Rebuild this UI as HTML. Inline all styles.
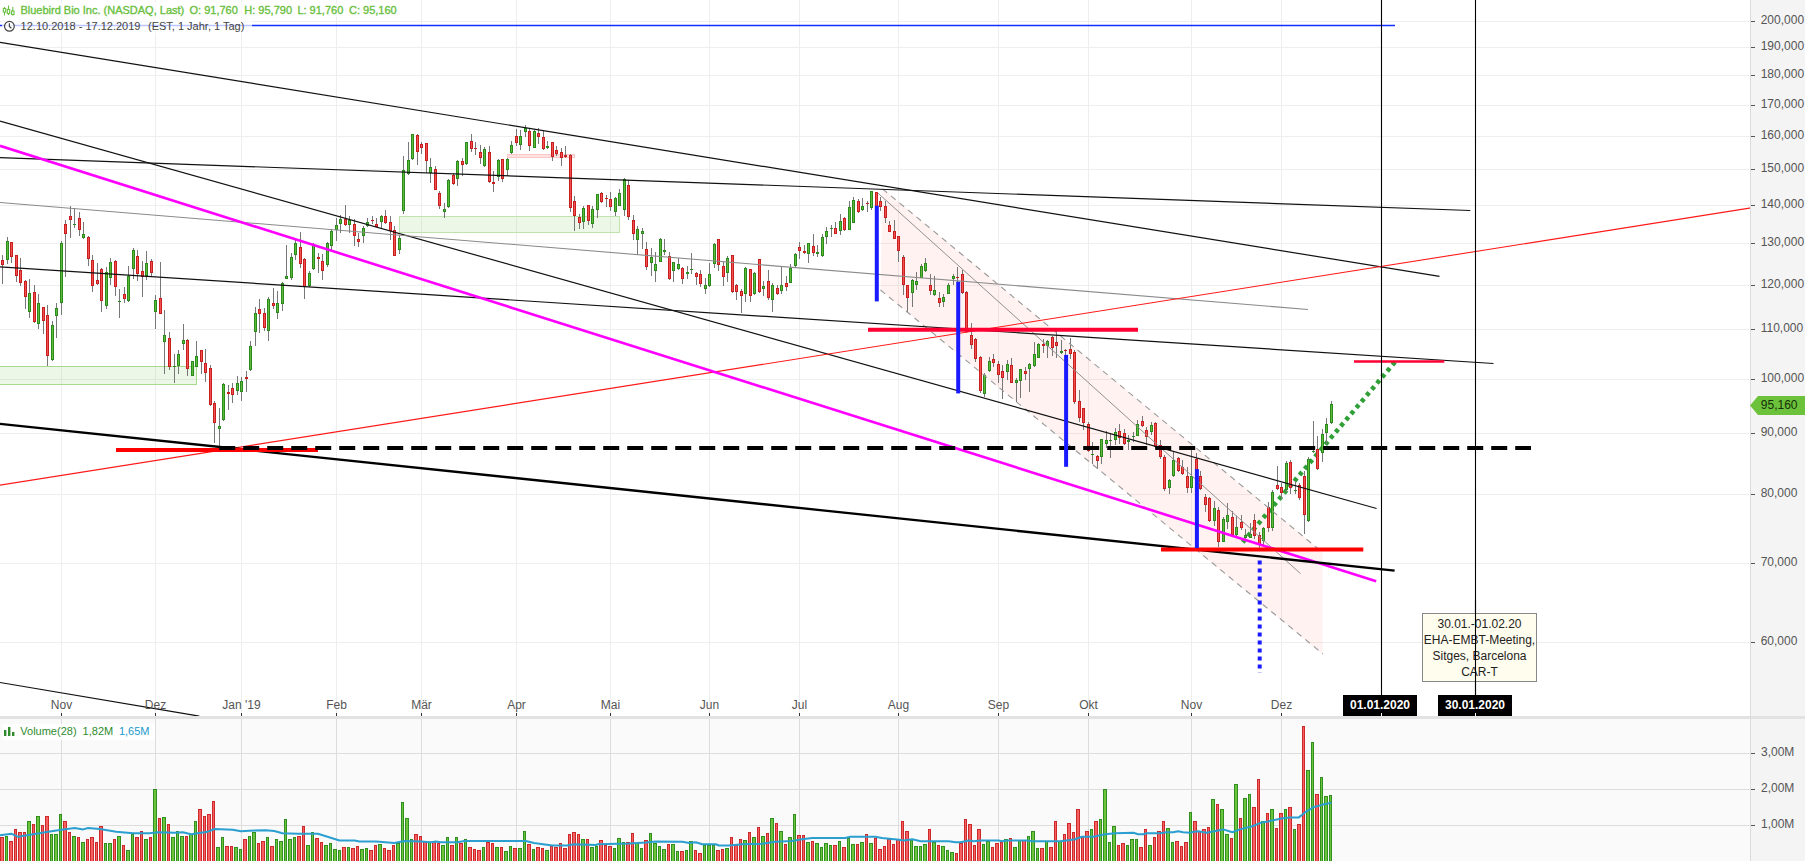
<!DOCTYPE html>
<html lang="de"><head><meta charset="utf-8"><title>Bluebird Bio Inc. Chart</title><style>html,body{margin:0;padding:0;background:#fff;overflow:hidden}svg{display:block}</style></head><body>
<svg width="1805" height="861" viewBox="0 0 1805 861" font-family="'Liberation Sans', Arial, sans-serif">
<rect x="0" y="0" width="1805" height="861" fill="#ffffff"/>
<rect x="0" y="719" width="1751" height="142" fill="#fafafa"/>
<rect x="1751" y="0" width="54" height="861" fill="#f4f4f4"/>
<g shape-rendering="crispEdges" stroke="#eeeeee" stroke-width="1">
<line x1="0" y1="21.5" x2="1750" y2="21.5"/>
<line x1="0" y1="47.5" x2="1750" y2="47.5"/>
<line x1="0" y1="75.5" x2="1750" y2="75.5"/>
<line x1="0" y1="105.5" x2="1750" y2="105.5"/>
<line x1="0" y1="136.5" x2="1750" y2="136.5"/>
<line x1="0" y1="169.5" x2="1750" y2="169.5"/>
<line x1="0" y1="205.5" x2="1750" y2="205.5"/>
<line x1="0" y1="243.5" x2="1750" y2="243.5"/>
<line x1="0" y1="285.5" x2="1750" y2="285.5"/>
<line x1="0" y1="329.5" x2="1750" y2="329.5"/>
<line x1="0" y1="379.5" x2="1750" y2="379.5"/>
<line x1="0" y1="433.5" x2="1750" y2="433.5"/>
<line x1="0" y1="494.5" x2="1750" y2="494.5"/>
<line x1="0" y1="563.5" x2="1750" y2="563.5"/>
<line x1="0" y1="642.5" x2="1750" y2="642.5"/>
<line x1="61.5" y1="0" x2="61.5" y2="716"/>
<line x1="155.5" y1="0" x2="155.5" y2="716"/>
<line x1="241.5" y1="0" x2="241.5" y2="716"/>
<line x1="336.5" y1="0" x2="336.5" y2="716"/>
<line x1="421.5" y1="0" x2="421.5" y2="716"/>
<line x1="516.5" y1="0" x2="516.5" y2="716"/>
<line x1="610.5" y1="0" x2="610.5" y2="716"/>
<line x1="709.5" y1="0" x2="709.5" y2="716"/>
<line x1="799.5" y1="0" x2="799.5" y2="716"/>
<line x1="898.5" y1="0" x2="898.5" y2="716"/>
<line x1="998.5" y1="0" x2="998.5" y2="716"/>
<line x1="1088.5" y1="0" x2="1088.5" y2="716"/>
<line x1="1191.5" y1="0" x2="1191.5" y2="716"/>
<line x1="1281.5" y1="0" x2="1281.5" y2="716"/>
</g>
<g shape-rendering="crispEdges" stroke="#dddddd" stroke-width="1">
<line x1="0" y1="753.5" x2="1750" y2="753.5"/>
<line x1="0" y1="789.5" x2="1750" y2="789.5"/>
<line x1="0" y1="825.5" x2="1750" y2="825.5"/>
<line x1="61.5" y1="719" x2="61.5" y2="861"/>
<line x1="155.5" y1="719" x2="155.5" y2="861"/>
<line x1="241.5" y1="719" x2="241.5" y2="861"/>
<line x1="336.5" y1="719" x2="336.5" y2="861"/>
<line x1="421.5" y1="719" x2="421.5" y2="861"/>
<line x1="516.5" y1="719" x2="516.5" y2="861"/>
<line x1="610.5" y1="719" x2="610.5" y2="861"/>
<line x1="709.5" y1="719" x2="709.5" y2="861"/>
<line x1="799.5" y1="719" x2="799.5" y2="861"/>
<line x1="898.5" y1="719" x2="898.5" y2="861"/>
<line x1="998.5" y1="719" x2="998.5" y2="861"/>
<line x1="1088.5" y1="719" x2="1088.5" y2="861"/>
<line x1="1191.5" y1="719" x2="1191.5" y2="861"/>
<line x1="1281.5" y1="719" x2="1281.5" y2="861"/>
</g>
<polygon points="882.5,188.9 1322.5,552 1322.5,654 880.5,290" fill="rgb(255,90,80)" fill-opacity="0.08"/>
<line x1="1395" y1="362" x2="1241.2" y2="544" stroke="#2fa037" stroke-width="4.6" stroke-dasharray="4 4"/>
<rect x="-1" y="366.5" width="197.5" height="18" fill="#66bb44" fill-opacity="0.12" stroke="#a9d98a" stroke-width="1"/>
<rect x="399.5" y="216.5" width="220" height="16" fill="#66bb44" fill-opacity="0.12" stroke="#bfe3ad" stroke-width="1"/>
<rect x="507.5" y="154.5" width="67" height="3" fill="#ff8888" fill-opacity="0.25" stroke="#ffc8c8" stroke-width="1"/>
<g shape-rendering="crispEdges">
<line x1="2.5" y1="255" x2="2.5" y2="284" stroke="#777777" stroke-width="1"/>
<rect x="1.0" y="260" width="3" height="5" fill="#c81e1e"/>
<rect x="2.0" y="261" width="1" height="3" fill="#f05050"/>
<line x1="7.5" y1="237" x2="7.5" y2="264" stroke="#777777" stroke-width="1"/>
<rect x="6.0" y="241" width="3" height="19" fill="#2a8a1e"/>
<rect x="7.0" y="242" width="1" height="17" fill="#5dbb38"/>
<line x1="11.5" y1="242" x2="11.5" y2="263" stroke="#777777" stroke-width="1"/>
<rect x="10.0" y="242" width="3" height="15" fill="#c81e1e"/>
<rect x="11.0" y="243" width="1" height="13" fill="#f05050"/>
<line x1="16.5" y1="255" x2="16.5" y2="282" stroke="#777777" stroke-width="1"/>
<rect x="15.0" y="255" width="3" height="21" fill="#c81e1e"/>
<rect x="16.0" y="256" width="1" height="19" fill="#f05050"/>
<line x1="20.5" y1="258" x2="20.5" y2="286" stroke="#777777" stroke-width="1"/>
<rect x="19.0" y="270" width="3" height="13" fill="#c81e1e"/>
<rect x="20.0" y="271" width="1" height="11" fill="#f05050"/>
<line x1="25.5" y1="280" x2="25.5" y2="309" stroke="#777777" stroke-width="1"/>
<rect x="24.0" y="281" width="3" height="16" fill="#c81e1e"/>
<rect x="25.0" y="282" width="1" height="14" fill="#f05050"/>
<line x1="29.5" y1="279" x2="29.5" y2="318" stroke="#777777" stroke-width="1"/>
<rect x="28.0" y="293" width="3" height="19" fill="#2a8a1e"/>
<rect x="29.0" y="294" width="1" height="17" fill="#5dbb38"/>
<line x1="34.5" y1="285" x2="34.5" y2="323" stroke="#777777" stroke-width="1"/>
<rect x="33.0" y="292" width="3" height="30" fill="#c81e1e"/>
<rect x="34.0" y="293" width="1" height="28" fill="#f05050"/>
<line x1="38.5" y1="294" x2="38.5" y2="329" stroke="#777777" stroke-width="1"/>
<rect x="37.0" y="303" width="3" height="21" fill="#2a8a1e"/>
<rect x="38.0" y="304" width="1" height="19" fill="#5dbb38"/>
<line x1="43.5" y1="307" x2="43.5" y2="334" stroke="#777777" stroke-width="1"/>
<rect x="42.0" y="307" width="3" height="14" fill="#c81e1e"/>
<rect x="43.0" y="308" width="1" height="12" fill="#f05050"/>
<line x1="47.5" y1="305" x2="47.5" y2="366" stroke="#777777" stroke-width="1"/>
<rect x="46.0" y="315" width="3" height="41" fill="#c81e1e"/>
<rect x="47.0" y="316" width="1" height="39" fill="#f05050"/>
<line x1="52.5" y1="321" x2="52.5" y2="361" stroke="#777777" stroke-width="1"/>
<rect x="51.0" y="325" width="3" height="35" fill="#2a8a1e"/>
<rect x="52.0" y="326" width="1" height="33" fill="#5dbb38"/>
<line x1="56.5" y1="303" x2="56.5" y2="338" stroke="#777777" stroke-width="1"/>
<rect x="55.0" y="308" width="3" height="8" fill="#2a8a1e"/>
<rect x="56.0" y="309" width="1" height="6" fill="#5dbb38"/>
<line x1="61.5" y1="241" x2="61.5" y2="315" stroke="#777777" stroke-width="1"/>
<rect x="60.0" y="243" width="3" height="60" fill="#2a8a1e"/>
<rect x="61.0" y="244" width="1" height="58" fill="#5dbb38"/>
<line x1="65.5" y1="220" x2="65.5" y2="277" stroke="#777777" stroke-width="1"/>
<rect x="64.0" y="224" width="3" height="10" fill="#c81e1e"/>
<rect x="65.0" y="225" width="1" height="8" fill="#f05050"/>
<line x1="70.5" y1="206" x2="70.5" y2="238" stroke="#777777" stroke-width="1"/>
<rect x="69.0" y="216" width="3" height="4" fill="#c81e1e"/>
<rect x="70.0" y="217" width="1" height="2" fill="#f05050"/>
<line x1="74.5" y1="208" x2="74.5" y2="228" stroke="#777777" stroke-width="1"/>
<rect x="73.0" y="224" width="3" height="1" fill="#2a8a1e"/>
<line x1="79.5" y1="212" x2="79.5" y2="236" stroke="#777777" stroke-width="1"/>
<rect x="78.0" y="218" width="3" height="12" fill="#c81e1e"/>
<rect x="79.0" y="219" width="1" height="10" fill="#f05050"/>
<line x1="83.5" y1="222" x2="83.5" y2="239" stroke="#777777" stroke-width="1"/>
<rect x="82.0" y="234" width="3" height="4" fill="#2a8a1e"/>
<rect x="83.0" y="235" width="1" height="2" fill="#5dbb38"/>
<line x1="88.5" y1="236" x2="88.5" y2="266" stroke="#777777" stroke-width="1"/>
<rect x="87.0" y="237" width="3" height="22" fill="#c81e1e"/>
<rect x="88.0" y="238" width="1" height="20" fill="#f05050"/>
<line x1="92.5" y1="255" x2="92.5" y2="292" stroke="#777777" stroke-width="1"/>
<rect x="91.0" y="260" width="3" height="26" fill="#c81e1e"/>
<rect x="92.0" y="261" width="1" height="24" fill="#f05050"/>
<line x1="97.5" y1="263" x2="97.5" y2="285" stroke="#777777" stroke-width="1"/>
<rect x="96.0" y="280" width="3" height="4" fill="#c81e1e"/>
<rect x="97.0" y="281" width="1" height="2" fill="#f05050"/>
<line x1="101.5" y1="268" x2="101.5" y2="312" stroke="#777777" stroke-width="1"/>
<rect x="100.0" y="269" width="3" height="32" fill="#c81e1e"/>
<rect x="101.0" y="270" width="1" height="30" fill="#f05050"/>
<line x1="106.5" y1="267" x2="106.5" y2="309" stroke="#777777" stroke-width="1"/>
<rect x="105.0" y="272" width="3" height="34" fill="#2a8a1e"/>
<rect x="106.0" y="273" width="1" height="32" fill="#5dbb38"/>
<line x1="110.5" y1="258" x2="110.5" y2="285" stroke="#777777" stroke-width="1"/>
<rect x="109.0" y="262" width="3" height="16" fill="#2a8a1e"/>
<rect x="110.0" y="263" width="1" height="14" fill="#5dbb38"/>
<line x1="115.5" y1="260" x2="115.5" y2="296" stroke="#777777" stroke-width="1"/>
<rect x="114.0" y="261" width="3" height="26" fill="#c81e1e"/>
<rect x="115.0" y="262" width="1" height="24" fill="#f05050"/>
<line x1="119.5" y1="289" x2="119.5" y2="318" stroke="#777777" stroke-width="1"/>
<rect x="118.0" y="301" width="3" height="1" fill="#2a8a1e"/>
<line x1="124.5" y1="287" x2="124.5" y2="303" stroke="#777777" stroke-width="1"/>
<rect x="123.0" y="294" width="3" height="5" fill="#c81e1e"/>
<rect x="124.0" y="295" width="1" height="3" fill="#f05050"/>
<line x1="128.5" y1="266" x2="128.5" y2="302" stroke="#777777" stroke-width="1"/>
<rect x="127.0" y="276" width="3" height="25" fill="#2a8a1e"/>
<rect x="128.0" y="277" width="1" height="23" fill="#5dbb38"/>
<line x1="133.5" y1="248" x2="133.5" y2="279" stroke="#777777" stroke-width="1"/>
<rect x="132.0" y="250" width="3" height="19" fill="#2a8a1e"/>
<rect x="133.0" y="251" width="1" height="17" fill="#5dbb38"/>
<line x1="137.5" y1="250" x2="137.5" y2="281" stroke="#777777" stroke-width="1"/>
<rect x="136.0" y="256" width="3" height="18" fill="#c81e1e"/>
<rect x="137.0" y="257" width="1" height="16" fill="#f05050"/>
<line x1="142.5" y1="261" x2="142.5" y2="297" stroke="#777777" stroke-width="1"/>
<rect x="141.0" y="271" width="3" height="6" fill="#c81e1e"/>
<rect x="142.0" y="272" width="1" height="4" fill="#f05050"/>
<line x1="146.5" y1="251" x2="146.5" y2="280" stroke="#777777" stroke-width="1"/>
<rect x="145.0" y="263" width="3" height="13" fill="#2a8a1e"/>
<rect x="146.0" y="264" width="1" height="11" fill="#5dbb38"/>
<line x1="151.5" y1="259" x2="151.5" y2="276" stroke="#777777" stroke-width="1"/>
<rect x="150.0" y="261" width="3" height="12" fill="#c81e1e"/>
<rect x="151.0" y="262" width="1" height="10" fill="#f05050"/>
<line x1="155.5" y1="295" x2="155.5" y2="329" stroke="#777777" stroke-width="1"/>
<rect x="154.0" y="300" width="3" height="12" fill="#2a8a1e"/>
<rect x="155.0" y="301" width="1" height="10" fill="#5dbb38"/>
<line x1="160.5" y1="262" x2="160.5" y2="314" stroke="#777777" stroke-width="1"/>
<rect x="159.0" y="298" width="3" height="16" fill="#c81e1e"/>
<rect x="160.0" y="299" width="1" height="14" fill="#f05050"/>
<line x1="164.5" y1="310" x2="164.5" y2="374" stroke="#777777" stroke-width="1"/>
<rect x="163.0" y="335" width="3" height="7" fill="#2a8a1e"/>
<rect x="164.0" y="336" width="1" height="5" fill="#5dbb38"/>
<line x1="169.5" y1="332" x2="169.5" y2="370" stroke="#777777" stroke-width="1"/>
<rect x="168.0" y="338" width="3" height="29" fill="#c81e1e"/>
<rect x="169.0" y="339" width="1" height="27" fill="#f05050"/>
<line x1="174.5" y1="354" x2="174.5" y2="383" stroke="#777777" stroke-width="1"/>
<rect x="173.0" y="366" width="3" height="1" fill="#2a8a1e"/>
<line x1="178.5" y1="350" x2="178.5" y2="374" stroke="#777777" stroke-width="1"/>
<rect x="177.0" y="354" width="3" height="12" fill="#2a8a1e"/>
<rect x="178.0" y="355" width="1" height="10" fill="#5dbb38"/>
<line x1="183.5" y1="324" x2="183.5" y2="350" stroke="#777777" stroke-width="1"/>
<rect x="182.0" y="340" width="3" height="4" fill="#2a8a1e"/>
<rect x="183.0" y="341" width="1" height="2" fill="#5dbb38"/>
<line x1="187.5" y1="339" x2="187.5" y2="376" stroke="#777777" stroke-width="1"/>
<rect x="186.0" y="340" width="3" height="29" fill="#c81e1e"/>
<rect x="187.0" y="341" width="1" height="27" fill="#f05050"/>
<line x1="192.5" y1="361" x2="192.5" y2="376" stroke="#777777" stroke-width="1"/>
<rect x="191.0" y="361" width="3" height="15" fill="#2a8a1e"/>
<rect x="192.0" y="362" width="1" height="13" fill="#5dbb38"/>
<line x1="196.5" y1="341" x2="196.5" y2="367" stroke="#777777" stroke-width="1"/>
<rect x="195.0" y="356" width="3" height="11" fill="#2a8a1e"/>
<rect x="196.0" y="357" width="1" height="9" fill="#5dbb38"/>
<line x1="201.5" y1="350" x2="201.5" y2="374" stroke="#777777" stroke-width="1"/>
<rect x="200.0" y="350" width="3" height="12" fill="#c81e1e"/>
<rect x="201.0" y="351" width="1" height="10" fill="#f05050"/>
<line x1="205.5" y1="349" x2="205.5" y2="382" stroke="#777777" stroke-width="1"/>
<rect x="204.0" y="363" width="3" height="10" fill="#c81e1e"/>
<rect x="205.0" y="364" width="1" height="8" fill="#f05050"/>
<line x1="210.5" y1="365" x2="210.5" y2="406" stroke="#777777" stroke-width="1"/>
<rect x="209.0" y="368" width="3" height="37" fill="#c81e1e"/>
<rect x="210.0" y="369" width="1" height="35" fill="#f05050"/>
<line x1="214.5" y1="401" x2="214.5" y2="443" stroke="#777777" stroke-width="1"/>
<rect x="213.0" y="403" width="3" height="20" fill="#c81e1e"/>
<rect x="214.0" y="404" width="1" height="18" fill="#f05050"/>
<line x1="219.5" y1="408" x2="219.5" y2="448" stroke="#777777" stroke-width="1"/>
<rect x="218.0" y="426" width="3" height="3" fill="#2a8a1e"/>
<rect x="219.0" y="427" width="1" height="1" fill="#5dbb38"/>
<line x1="223.5" y1="383" x2="223.5" y2="421" stroke="#777777" stroke-width="1"/>
<rect x="222.0" y="384" width="3" height="36" fill="#2a8a1e"/>
<rect x="223.0" y="385" width="1" height="34" fill="#5dbb38"/>
<line x1="228.5" y1="385" x2="228.5" y2="410" stroke="#777777" stroke-width="1"/>
<rect x="227.0" y="392" width="3" height="2" fill="#c81e1e"/>
<line x1="232.5" y1="383" x2="232.5" y2="403" stroke="#777777" stroke-width="1"/>
<rect x="231.0" y="388" width="3" height="7" fill="#c81e1e"/>
<rect x="232.0" y="389" width="1" height="5" fill="#f05050"/>
<line x1="237.5" y1="376" x2="237.5" y2="395" stroke="#777777" stroke-width="1"/>
<rect x="236.0" y="383" width="3" height="8" fill="#2a8a1e"/>
<rect x="237.0" y="384" width="1" height="6" fill="#5dbb38"/>
<line x1="241.5" y1="377" x2="241.5" y2="401" stroke="#777777" stroke-width="1"/>
<rect x="240.0" y="381" width="3" height="11" fill="#2a8a1e"/>
<rect x="241.0" y="382" width="1" height="9" fill="#5dbb38"/>
<line x1="246.5" y1="371" x2="246.5" y2="392" stroke="#777777" stroke-width="1"/>
<rect x="245.0" y="377" width="3" height="2" fill="#c81e1e"/>
<line x1="250.5" y1="341" x2="250.5" y2="371" stroke="#777777" stroke-width="1"/>
<rect x="249.0" y="346" width="3" height="24" fill="#2a8a1e"/>
<rect x="250.0" y="347" width="1" height="22" fill="#5dbb38"/>
<line x1="255.5" y1="307" x2="255.5" y2="346" stroke="#777777" stroke-width="1"/>
<rect x="254.0" y="313" width="3" height="19" fill="#2a8a1e"/>
<rect x="255.0" y="314" width="1" height="17" fill="#5dbb38"/>
<line x1="259.5" y1="299" x2="259.5" y2="333" stroke="#777777" stroke-width="1"/>
<rect x="258.0" y="309" width="3" height="5" fill="#c81e1e"/>
<rect x="259.0" y="310" width="1" height="3" fill="#f05050"/>
<line x1="264.5" y1="308" x2="264.5" y2="331" stroke="#777777" stroke-width="1"/>
<rect x="263.0" y="313" width="3" height="15" fill="#c81e1e"/>
<rect x="264.0" y="314" width="1" height="13" fill="#f05050"/>
<line x1="268.5" y1="297" x2="268.5" y2="341" stroke="#777777" stroke-width="1"/>
<rect x="267.0" y="299" width="3" height="32" fill="#2a8a1e"/>
<rect x="268.0" y="300" width="1" height="30" fill="#5dbb38"/>
<line x1="273.5" y1="288" x2="273.5" y2="309" stroke="#777777" stroke-width="1"/>
<rect x="272.0" y="303" width="3" height="3" fill="#c81e1e"/>
<rect x="273.0" y="304" width="1" height="1" fill="#f05050"/>
<line x1="277.5" y1="291" x2="277.5" y2="319" stroke="#777777" stroke-width="1"/>
<rect x="276.0" y="303" width="3" height="10" fill="#2a8a1e"/>
<rect x="277.0" y="304" width="1" height="8" fill="#5dbb38"/>
<line x1="282.5" y1="282" x2="282.5" y2="311" stroke="#777777" stroke-width="1"/>
<rect x="281.0" y="283" width="3" height="21" fill="#2a8a1e"/>
<rect x="282.0" y="284" width="1" height="19" fill="#5dbb38"/>
<line x1="286.5" y1="245" x2="286.5" y2="279" stroke="#777777" stroke-width="1"/>
<rect x="285.0" y="276" width="3" height="3" fill="#2a8a1e"/>
<rect x="286.0" y="277" width="1" height="1" fill="#5dbb38"/>
<line x1="291.5" y1="253" x2="291.5" y2="280" stroke="#777777" stroke-width="1"/>
<rect x="290.0" y="257" width="3" height="21" fill="#2a8a1e"/>
<rect x="291.0" y="258" width="1" height="19" fill="#5dbb38"/>
<line x1="295.5" y1="240" x2="295.5" y2="260" stroke="#777777" stroke-width="1"/>
<rect x="294.0" y="243" width="3" height="12" fill="#2a8a1e"/>
<rect x="295.0" y="244" width="1" height="10" fill="#5dbb38"/>
<line x1="300.5" y1="232" x2="300.5" y2="268" stroke="#777777" stroke-width="1"/>
<rect x="299.0" y="247" width="3" height="17" fill="#c81e1e"/>
<rect x="300.0" y="248" width="1" height="15" fill="#f05050"/>
<line x1="304.5" y1="258" x2="304.5" y2="299" stroke="#777777" stroke-width="1"/>
<rect x="303.0" y="259" width="3" height="28" fill="#c81e1e"/>
<rect x="304.0" y="260" width="1" height="26" fill="#f05050"/>
<line x1="309.5" y1="271" x2="309.5" y2="287" stroke="#777777" stroke-width="1"/>
<rect x="308.0" y="273" width="3" height="13" fill="#2a8a1e"/>
<rect x="309.0" y="274" width="1" height="11" fill="#5dbb38"/>
<line x1="313.5" y1="243" x2="313.5" y2="270" stroke="#777777" stroke-width="1"/>
<rect x="312.0" y="245" width="3" height="24" fill="#2a8a1e"/>
<rect x="313.0" y="246" width="1" height="22" fill="#5dbb38"/>
<line x1="318.5" y1="253" x2="318.5" y2="273" stroke="#777777" stroke-width="1"/>
<rect x="317.0" y="257" width="3" height="2" fill="#c81e1e"/>
<line x1="322.5" y1="254" x2="322.5" y2="280" stroke="#777777" stroke-width="1"/>
<rect x="321.0" y="261" width="3" height="10" fill="#c81e1e"/>
<rect x="322.0" y="262" width="1" height="8" fill="#f05050"/>
<line x1="327.5" y1="242" x2="327.5" y2="267" stroke="#777777" stroke-width="1"/>
<rect x="326.0" y="243" width="3" height="22" fill="#2a8a1e"/>
<rect x="327.0" y="244" width="1" height="20" fill="#5dbb38"/>
<line x1="331.5" y1="229" x2="331.5" y2="250" stroke="#777777" stroke-width="1"/>
<rect x="330.0" y="231" width="3" height="15" fill="#2a8a1e"/>
<rect x="331.0" y="232" width="1" height="13" fill="#5dbb38"/>
<line x1="336.5" y1="218" x2="336.5" y2="241" stroke="#777777" stroke-width="1"/>
<rect x="335.0" y="225" width="3" height="5" fill="#2a8a1e"/>
<rect x="336.0" y="226" width="1" height="3" fill="#5dbb38"/>
<line x1="340.5" y1="215" x2="340.5" y2="233" stroke="#777777" stroke-width="1"/>
<rect x="339.0" y="219" width="3" height="5" fill="#2a8a1e"/>
<rect x="340.0" y="220" width="1" height="3" fill="#5dbb38"/>
<line x1="345.5" y1="205" x2="345.5" y2="226" stroke="#777777" stroke-width="1"/>
<rect x="344.0" y="219" width="3" height="6" fill="#c81e1e"/>
<rect x="345.0" y="220" width="1" height="4" fill="#f05050"/>
<line x1="349.5" y1="216" x2="349.5" y2="233" stroke="#777777" stroke-width="1"/>
<rect x="348.0" y="220" width="3" height="5" fill="#2a8a1e"/>
<rect x="349.0" y="221" width="1" height="3" fill="#5dbb38"/>
<line x1="354.5" y1="219" x2="354.5" y2="246" stroke="#777777" stroke-width="1"/>
<rect x="353.0" y="224" width="3" height="12" fill="#c81e1e"/>
<rect x="354.0" y="225" width="1" height="10" fill="#f05050"/>
<line x1="358.5" y1="233" x2="358.5" y2="247" stroke="#777777" stroke-width="1"/>
<rect x="357.0" y="239" width="3" height="3" fill="#c81e1e"/>
<rect x="358.0" y="240" width="1" height="1" fill="#f05050"/>
<line x1="363.5" y1="226" x2="363.5" y2="243" stroke="#777777" stroke-width="1"/>
<rect x="362.0" y="228" width="3" height="8" fill="#2a8a1e"/>
<rect x="363.0" y="229" width="1" height="6" fill="#5dbb38"/>
<line x1="367.5" y1="218" x2="367.5" y2="227" stroke="#777777" stroke-width="1"/>
<rect x="366.0" y="222" width="3" height="4" fill="#2a8a1e"/>
<rect x="367.0" y="223" width="1" height="2" fill="#5dbb38"/>
<line x1="372.5" y1="216" x2="372.5" y2="224" stroke="#777777" stroke-width="1"/>
<rect x="371.0" y="220" width="3" height="1" fill="#c81e1e"/>
<line x1="376.5" y1="218" x2="376.5" y2="227" stroke="#777777" stroke-width="1"/>
<rect x="375.0" y="224" width="3" height="3" fill="#c81e1e"/>
<rect x="376.0" y="225" width="1" height="1" fill="#f05050"/>
<line x1="381.5" y1="215" x2="381.5" y2="228" stroke="#777777" stroke-width="1"/>
<rect x="380.0" y="216" width="3" height="6" fill="#2a8a1e"/>
<rect x="381.0" y="217" width="1" height="4" fill="#5dbb38"/>
<line x1="385.5" y1="210" x2="385.5" y2="224" stroke="#777777" stroke-width="1"/>
<rect x="384.0" y="216" width="3" height="7" fill="#c81e1e"/>
<rect x="385.0" y="217" width="1" height="5" fill="#f05050"/>
<line x1="390.5" y1="216" x2="390.5" y2="240" stroke="#777777" stroke-width="1"/>
<rect x="389.0" y="222" width="3" height="9" fill="#c81e1e"/>
<rect x="390.0" y="223" width="1" height="7" fill="#f05050"/>
<line x1="394.5" y1="226" x2="394.5" y2="256" stroke="#777777" stroke-width="1"/>
<rect x="393.0" y="230" width="3" height="26" fill="#c81e1e"/>
<rect x="394.0" y="231" width="1" height="24" fill="#f05050"/>
<line x1="399.5" y1="235" x2="399.5" y2="254" stroke="#777777" stroke-width="1"/>
<rect x="398.0" y="238" width="3" height="12" fill="#2a8a1e"/>
<rect x="399.0" y="239" width="1" height="10" fill="#5dbb38"/>
<line x1="403.5" y1="156" x2="403.5" y2="214" stroke="#777777" stroke-width="1"/>
<rect x="402.0" y="170" width="3" height="41" fill="#2a8a1e"/>
<rect x="403.0" y="171" width="1" height="39" fill="#5dbb38"/>
<line x1="408.5" y1="142" x2="408.5" y2="175" stroke="#777777" stroke-width="1"/>
<rect x="407.0" y="160" width="3" height="14" fill="#2a8a1e"/>
<rect x="408.0" y="161" width="1" height="12" fill="#5dbb38"/>
<line x1="412.5" y1="134" x2="412.5" y2="160" stroke="#777777" stroke-width="1"/>
<rect x="411.0" y="134" width="3" height="25" fill="#2a8a1e"/>
<rect x="412.0" y="135" width="1" height="23" fill="#5dbb38"/>
<line x1="417.5" y1="134" x2="417.5" y2="165" stroke="#777777" stroke-width="1"/>
<rect x="416.0" y="135" width="3" height="17" fill="#c81e1e"/>
<rect x="417.0" y="136" width="1" height="15" fill="#f05050"/>
<line x1="421.5" y1="142" x2="421.5" y2="154" stroke="#777777" stroke-width="1"/>
<rect x="420.0" y="144" width="3" height="4" fill="#c81e1e"/>
<rect x="421.0" y="145" width="1" height="2" fill="#f05050"/>
<line x1="426.5" y1="143" x2="426.5" y2="173" stroke="#777777" stroke-width="1"/>
<rect x="425.0" y="143" width="3" height="18" fill="#c81e1e"/>
<rect x="426.0" y="144" width="1" height="16" fill="#f05050"/>
<line x1="430.5" y1="158" x2="430.5" y2="183" stroke="#777777" stroke-width="1"/>
<rect x="429.0" y="167" width="3" height="6" fill="#2a8a1e"/>
<rect x="430.0" y="168" width="1" height="4" fill="#5dbb38"/>
<line x1="435.5" y1="166" x2="435.5" y2="190" stroke="#777777" stroke-width="1"/>
<rect x="434.0" y="169" width="3" height="21" fill="#c81e1e"/>
<rect x="435.0" y="170" width="1" height="19" fill="#f05050"/>
<line x1="439.5" y1="191" x2="439.5" y2="209" stroke="#777777" stroke-width="1"/>
<rect x="438.0" y="193" width="3" height="13" fill="#c81e1e"/>
<rect x="439.0" y="194" width="1" height="11" fill="#f05050"/>
<line x1="444.5" y1="203" x2="444.5" y2="218" stroke="#777777" stroke-width="1"/>
<rect x="443.0" y="209" width="3" height="3" fill="#2a8a1e"/>
<rect x="444.0" y="210" width="1" height="1" fill="#5dbb38"/>
<line x1="448.5" y1="179" x2="448.5" y2="208" stroke="#777777" stroke-width="1"/>
<rect x="447.0" y="180" width="3" height="27" fill="#2a8a1e"/>
<rect x="448.0" y="181" width="1" height="25" fill="#5dbb38"/>
<line x1="453.5" y1="173" x2="453.5" y2="185" stroke="#777777" stroke-width="1"/>
<rect x="452.0" y="175" width="3" height="9" fill="#c81e1e"/>
<rect x="453.0" y="176" width="1" height="7" fill="#f05050"/>
<line x1="457.5" y1="160" x2="457.5" y2="186" stroke="#777777" stroke-width="1"/>
<rect x="456.0" y="161" width="3" height="18" fill="#2a8a1e"/>
<rect x="457.0" y="162" width="1" height="16" fill="#5dbb38"/>
<line x1="462.5" y1="158" x2="462.5" y2="176" stroke="#777777" stroke-width="1"/>
<rect x="461.0" y="161" width="3" height="4" fill="#c81e1e"/>
<rect x="462.0" y="162" width="1" height="2" fill="#f05050"/>
<line x1="466.5" y1="142" x2="466.5" y2="165" stroke="#777777" stroke-width="1"/>
<rect x="465.0" y="142" width="3" height="22" fill="#2a8a1e"/>
<rect x="466.0" y="143" width="1" height="20" fill="#5dbb38"/>
<line x1="471.5" y1="134" x2="471.5" y2="152" stroke="#777777" stroke-width="1"/>
<rect x="470.0" y="141" width="3" height="8" fill="#c81e1e"/>
<rect x="471.0" y="142" width="1" height="6" fill="#f05050"/>
<line x1="475.5" y1="142" x2="475.5" y2="155" stroke="#777777" stroke-width="1"/>
<rect x="474.0" y="148" width="3" height="1" fill="#c81e1e"/>
<line x1="480.5" y1="145" x2="480.5" y2="164" stroke="#777777" stroke-width="1"/>
<rect x="479.0" y="152" width="3" height="6" fill="#c81e1e"/>
<rect x="480.0" y="153" width="1" height="4" fill="#f05050"/>
<line x1="484.5" y1="147" x2="484.5" y2="167" stroke="#777777" stroke-width="1"/>
<rect x="483.0" y="149" width="3" height="17" fill="#2a8a1e"/>
<rect x="484.0" y="150" width="1" height="15" fill="#5dbb38"/>
<line x1="489.5" y1="146" x2="489.5" y2="183" stroke="#777777" stroke-width="1"/>
<rect x="488.0" y="152" width="3" height="30" fill="#c81e1e"/>
<rect x="489.0" y="153" width="1" height="28" fill="#f05050"/>
<line x1="493.5" y1="171" x2="493.5" y2="192" stroke="#777777" stroke-width="1"/>
<rect x="492.0" y="182" width="3" height="2" fill="#c81e1e"/>
<line x1="498.5" y1="159" x2="498.5" y2="181" stroke="#777777" stroke-width="1"/>
<rect x="497.0" y="160" width="3" height="17" fill="#2a8a1e"/>
<rect x="498.0" y="161" width="1" height="15" fill="#5dbb38"/>
<line x1="502.5" y1="159" x2="502.5" y2="182" stroke="#777777" stroke-width="1"/>
<rect x="501.0" y="159" width="3" height="20" fill="#c81e1e"/>
<rect x="502.0" y="160" width="1" height="18" fill="#f05050"/>
<line x1="507.5" y1="158" x2="507.5" y2="176" stroke="#777777" stroke-width="1"/>
<rect x="506.0" y="159" width="3" height="11" fill="#2a8a1e"/>
<rect x="507.0" y="160" width="1" height="9" fill="#5dbb38"/>
<line x1="511.5" y1="141" x2="511.5" y2="154" stroke="#777777" stroke-width="1"/>
<rect x="510.0" y="145" width="3" height="8" fill="#2a8a1e"/>
<rect x="511.0" y="146" width="1" height="6" fill="#5dbb38"/>
<line x1="516.5" y1="129" x2="516.5" y2="146" stroke="#777777" stroke-width="1"/>
<rect x="515.0" y="136" width="3" height="7" fill="#c81e1e"/>
<rect x="516.0" y="137" width="1" height="5" fill="#f05050"/>
<line x1="520.5" y1="130" x2="520.5" y2="150" stroke="#777777" stroke-width="1"/>
<rect x="519.0" y="136" width="3" height="9" fill="#2a8a1e"/>
<rect x="520.0" y="137" width="1" height="7" fill="#5dbb38"/>
<line x1="525.5" y1="125" x2="525.5" y2="137" stroke="#777777" stroke-width="1"/>
<rect x="524.0" y="128" width="3" height="4" fill="#2a8a1e"/>
<rect x="525.0" y="129" width="1" height="2" fill="#5dbb38"/>
<line x1="529.5" y1="129" x2="529.5" y2="151" stroke="#777777" stroke-width="1"/>
<rect x="528.0" y="131" width="3" height="15" fill="#c81e1e"/>
<rect x="529.0" y="132" width="1" height="13" fill="#f05050"/>
<line x1="534.5" y1="130" x2="534.5" y2="148" stroke="#777777" stroke-width="1"/>
<rect x="533.0" y="131" width="3" height="17" fill="#2a8a1e"/>
<rect x="534.0" y="132" width="1" height="15" fill="#5dbb38"/>
<line x1="538.5" y1="128" x2="538.5" y2="144" stroke="#777777" stroke-width="1"/>
<rect x="537.0" y="133" width="3" height="4" fill="#c81e1e"/>
<rect x="538.0" y="134" width="1" height="2" fill="#f05050"/>
<line x1="543.5" y1="131" x2="543.5" y2="150" stroke="#777777" stroke-width="1"/>
<rect x="542.0" y="137" width="3" height="12" fill="#c81e1e"/>
<rect x="543.0" y="138" width="1" height="10" fill="#f05050"/>
<line x1="547.5" y1="141" x2="547.5" y2="149" stroke="#777777" stroke-width="1"/>
<rect x="546.0" y="146" width="3" height="2" fill="#2a8a1e"/>
<line x1="552.5" y1="142" x2="552.5" y2="161" stroke="#777777" stroke-width="1"/>
<rect x="551.0" y="142" width="3" height="15" fill="#c81e1e"/>
<rect x="552.0" y="143" width="1" height="13" fill="#f05050"/>
<line x1="556.5" y1="146" x2="556.5" y2="156" stroke="#777777" stroke-width="1"/>
<rect x="555.0" y="150" width="3" height="4" fill="#c81e1e"/>
<rect x="556.0" y="151" width="1" height="2" fill="#f05050"/>
<line x1="561.5" y1="148" x2="561.5" y2="166" stroke="#777777" stroke-width="1"/>
<rect x="560.0" y="152" width="3" height="6" fill="#c81e1e"/>
<rect x="561.0" y="153" width="1" height="4" fill="#f05050"/>
<line x1="565.5" y1="146" x2="565.5" y2="158" stroke="#777777" stroke-width="1"/>
<rect x="564.0" y="155" width="3" height="2" fill="#c81e1e"/>
<line x1="570.5" y1="154" x2="570.5" y2="212" stroke="#777777" stroke-width="1"/>
<rect x="569.0" y="155" width="3" height="53" fill="#c81e1e"/>
<rect x="570.0" y="156" width="1" height="51" fill="#f05050"/>
<line x1="574.5" y1="196" x2="574.5" y2="231" stroke="#777777" stroke-width="1"/>
<rect x="573.0" y="201" width="3" height="15" fill="#c81e1e"/>
<rect x="574.0" y="202" width="1" height="13" fill="#f05050"/>
<line x1="579.5" y1="214" x2="579.5" y2="229" stroke="#777777" stroke-width="1"/>
<rect x="578.0" y="217" width="3" height="6" fill="#c81e1e"/>
<rect x="579.0" y="218" width="1" height="4" fill="#f05050"/>
<line x1="583.5" y1="206" x2="583.5" y2="229" stroke="#777777" stroke-width="1"/>
<rect x="582.0" y="208" width="3" height="14" fill="#2a8a1e"/>
<rect x="583.0" y="209" width="1" height="12" fill="#5dbb38"/>
<line x1="588.5" y1="205" x2="588.5" y2="225" stroke="#777777" stroke-width="1"/>
<rect x="587.0" y="205" width="3" height="16" fill="#c81e1e"/>
<rect x="588.0" y="206" width="1" height="14" fill="#f05050"/>
<line x1="592.5" y1="206" x2="592.5" y2="228" stroke="#777777" stroke-width="1"/>
<rect x="591.0" y="209" width="3" height="15" fill="#2a8a1e"/>
<rect x="592.0" y="210" width="1" height="13" fill="#5dbb38"/>
<line x1="597.5" y1="194" x2="597.5" y2="218" stroke="#777777" stroke-width="1"/>
<rect x="596.0" y="194" width="3" height="16" fill="#2a8a1e"/>
<rect x="597.0" y="195" width="1" height="14" fill="#5dbb38"/>
<line x1="601.5" y1="192" x2="601.5" y2="203" stroke="#777777" stroke-width="1"/>
<rect x="600.0" y="193" width="3" height="9" fill="#c81e1e"/>
<rect x="601.0" y="194" width="1" height="7" fill="#f05050"/>
<line x1="606.5" y1="195" x2="606.5" y2="207" stroke="#777777" stroke-width="1"/>
<rect x="605.0" y="198" width="3" height="1" fill="#c81e1e"/>
<line x1="610.5" y1="192" x2="610.5" y2="211" stroke="#777777" stroke-width="1"/>
<rect x="609.0" y="199" width="3" height="8" fill="#c81e1e"/>
<rect x="610.0" y="200" width="1" height="6" fill="#f05050"/>
<line x1="615.5" y1="197" x2="615.5" y2="216" stroke="#777777" stroke-width="1"/>
<rect x="614.0" y="198" width="3" height="14" fill="#2a8a1e"/>
<rect x="615.0" y="199" width="1" height="12" fill="#5dbb38"/>
<line x1="619.5" y1="189" x2="619.5" y2="206" stroke="#777777" stroke-width="1"/>
<rect x="618.0" y="193" width="3" height="13" fill="#2a8a1e"/>
<rect x="619.0" y="194" width="1" height="11" fill="#5dbb38"/>
<line x1="624.5" y1="178" x2="624.5" y2="216" stroke="#777777" stroke-width="1"/>
<rect x="623.0" y="179" width="3" height="31" fill="#2a8a1e"/>
<rect x="624.0" y="180" width="1" height="29" fill="#5dbb38"/>
<line x1="628.5" y1="180" x2="628.5" y2="220" stroke="#777777" stroke-width="1"/>
<rect x="627.0" y="185" width="3" height="32" fill="#c81e1e"/>
<rect x="628.0" y="186" width="1" height="30" fill="#f05050"/>
<line x1="633.5" y1="215" x2="633.5" y2="240" stroke="#777777" stroke-width="1"/>
<rect x="632.0" y="220" width="3" height="14" fill="#c81e1e"/>
<rect x="633.0" y="221" width="1" height="12" fill="#f05050"/>
<line x1="637.5" y1="226" x2="637.5" y2="255" stroke="#777777" stroke-width="1"/>
<rect x="636.0" y="229" width="3" height="11" fill="#2a8a1e"/>
<rect x="637.0" y="230" width="1" height="9" fill="#5dbb38"/>
<line x1="642.5" y1="228" x2="642.5" y2="249" stroke="#777777" stroke-width="1"/>
<rect x="641.0" y="231" width="3" height="3" fill="#2a8a1e"/>
<rect x="642.0" y="232" width="1" height="1" fill="#5dbb38"/>
<line x1="646.5" y1="242" x2="646.5" y2="270" stroke="#777777" stroke-width="1"/>
<rect x="645.0" y="249" width="3" height="18" fill="#c81e1e"/>
<rect x="646.0" y="250" width="1" height="16" fill="#f05050"/>
<line x1="651.5" y1="248" x2="651.5" y2="276" stroke="#777777" stroke-width="1"/>
<rect x="650.0" y="257" width="3" height="6" fill="#2a8a1e"/>
<rect x="651.0" y="258" width="1" height="4" fill="#5dbb38"/>
<line x1="655.5" y1="252" x2="655.5" y2="282" stroke="#777777" stroke-width="1"/>
<rect x="654.0" y="264" width="3" height="7" fill="#2a8a1e"/>
<rect x="655.0" y="265" width="1" height="5" fill="#5dbb38"/>
<line x1="660.5" y1="238" x2="660.5" y2="262" stroke="#777777" stroke-width="1"/>
<rect x="659.0" y="239" width="3" height="23" fill="#2a8a1e"/>
<rect x="660.0" y="240" width="1" height="21" fill="#5dbb38"/>
<line x1="664.5" y1="239" x2="664.5" y2="255" stroke="#777777" stroke-width="1"/>
<rect x="663.0" y="250" width="3" height="2" fill="#2a8a1e"/>
<line x1="669.5" y1="252" x2="669.5" y2="280" stroke="#777777" stroke-width="1"/>
<rect x="668.0" y="256" width="3" height="23" fill="#c81e1e"/>
<rect x="669.0" y="257" width="1" height="21" fill="#f05050"/>
<line x1="673.5" y1="262" x2="673.5" y2="282" stroke="#777777" stroke-width="1"/>
<rect x="672.0" y="262" width="3" height="9" fill="#2a8a1e"/>
<rect x="673.0" y="263" width="1" height="7" fill="#5dbb38"/>
<line x1="678.5" y1="258" x2="678.5" y2="270" stroke="#777777" stroke-width="1"/>
<rect x="677.0" y="264" width="3" height="5" fill="#2a8a1e"/>
<rect x="678.0" y="265" width="1" height="3" fill="#5dbb38"/>
<line x1="682.5" y1="267" x2="682.5" y2="284" stroke="#777777" stroke-width="1"/>
<rect x="681.0" y="268" width="3" height="11" fill="#c81e1e"/>
<rect x="682.0" y="269" width="1" height="9" fill="#f05050"/>
<line x1="687.5" y1="266" x2="687.5" y2="279" stroke="#777777" stroke-width="1"/>
<rect x="686.0" y="272" width="3" height="2" fill="#2a8a1e"/>
<line x1="691.5" y1="253" x2="691.5" y2="274" stroke="#777777" stroke-width="1"/>
<rect x="690.0" y="269" width="3" height="1" fill="#2a8a1e"/>
<line x1="696.5" y1="272" x2="696.5" y2="285" stroke="#777777" stroke-width="1"/>
<rect x="695.0" y="273" width="3" height="4" fill="#c81e1e"/>
<rect x="696.0" y="274" width="1" height="2" fill="#f05050"/>
<line x1="700.5" y1="270" x2="700.5" y2="287" stroke="#777777" stroke-width="1"/>
<rect x="699.0" y="274" width="3" height="10" fill="#c81e1e"/>
<rect x="700.0" y="275" width="1" height="8" fill="#f05050"/>
<line x1="705.5" y1="278" x2="705.5" y2="294" stroke="#777777" stroke-width="1"/>
<rect x="704.0" y="285" width="3" height="4" fill="#2a8a1e"/>
<rect x="705.0" y="286" width="1" height="2" fill="#5dbb38"/>
<line x1="709.5" y1="263" x2="709.5" y2="287" stroke="#777777" stroke-width="1"/>
<rect x="708.0" y="274" width="3" height="12" fill="#2a8a1e"/>
<rect x="709.0" y="275" width="1" height="10" fill="#5dbb38"/>
<line x1="714.5" y1="243" x2="714.5" y2="268" stroke="#777777" stroke-width="1"/>
<rect x="713.0" y="244" width="3" height="20" fill="#2a8a1e"/>
<rect x="714.0" y="245" width="1" height="18" fill="#5dbb38"/>
<line x1="718.5" y1="239" x2="718.5" y2="271" stroke="#777777" stroke-width="1"/>
<rect x="717.0" y="239" width="3" height="26" fill="#c81e1e"/>
<rect x="718.0" y="240" width="1" height="24" fill="#f05050"/>
<line x1="723.5" y1="261" x2="723.5" y2="286" stroke="#777777" stroke-width="1"/>
<rect x="722.0" y="266" width="3" height="11" fill="#c81e1e"/>
<rect x="723.0" y="267" width="1" height="9" fill="#f05050"/>
<line x1="727.5" y1="256" x2="727.5" y2="282" stroke="#777777" stroke-width="1"/>
<rect x="726.0" y="258" width="3" height="15" fill="#2a8a1e"/>
<rect x="727.0" y="259" width="1" height="13" fill="#5dbb38"/>
<line x1="732.5" y1="255" x2="732.5" y2="293" stroke="#777777" stroke-width="1"/>
<rect x="731.0" y="255" width="3" height="37" fill="#c81e1e"/>
<rect x="732.0" y="256" width="1" height="35" fill="#f05050"/>
<line x1="736.5" y1="284" x2="736.5" y2="300" stroke="#777777" stroke-width="1"/>
<rect x="735.0" y="285" width="3" height="7" fill="#c81e1e"/>
<rect x="736.0" y="286" width="1" height="5" fill="#f05050"/>
<line x1="741.5" y1="289" x2="741.5" y2="313" stroke="#777777" stroke-width="1"/>
<rect x="740.0" y="291" width="3" height="5" fill="#c81e1e"/>
<rect x="741.0" y="292" width="1" height="3" fill="#f05050"/>
<line x1="745.5" y1="267" x2="745.5" y2="302" stroke="#777777" stroke-width="1"/>
<rect x="744.0" y="268" width="3" height="26" fill="#2a8a1e"/>
<rect x="745.0" y="269" width="1" height="24" fill="#5dbb38"/>
<line x1="750.5" y1="269" x2="750.5" y2="302" stroke="#777777" stroke-width="1"/>
<rect x="749.0" y="269" width="3" height="27" fill="#c81e1e"/>
<rect x="750.0" y="270" width="1" height="25" fill="#f05050"/>
<line x1="754.5" y1="272" x2="754.5" y2="295" stroke="#777777" stroke-width="1"/>
<rect x="753.0" y="273" width="3" height="21" fill="#2a8a1e"/>
<rect x="754.0" y="274" width="1" height="19" fill="#5dbb38"/>
<line x1="759.5" y1="259" x2="759.5" y2="293" stroke="#777777" stroke-width="1"/>
<rect x="758.0" y="259" width="3" height="33" fill="#c81e1e"/>
<rect x="759.0" y="260" width="1" height="31" fill="#f05050"/>
<line x1="763.5" y1="281" x2="763.5" y2="296" stroke="#777777" stroke-width="1"/>
<rect x="762.0" y="286" width="3" height="3" fill="#2a8a1e"/>
<rect x="763.0" y="287" width="1" height="1" fill="#5dbb38"/>
<line x1="768.5" y1="270" x2="768.5" y2="300" stroke="#777777" stroke-width="1"/>
<rect x="767.0" y="281" width="3" height="17" fill="#c81e1e"/>
<rect x="768.0" y="282" width="1" height="15" fill="#f05050"/>
<line x1="772.5" y1="283" x2="772.5" y2="312" stroke="#777777" stroke-width="1"/>
<rect x="771.0" y="285" width="3" height="15" fill="#2a8a1e"/>
<rect x="772.0" y="286" width="1" height="13" fill="#5dbb38"/>
<line x1="777.5" y1="285" x2="777.5" y2="295" stroke="#777777" stroke-width="1"/>
<rect x="776.0" y="288" width="3" height="6" fill="#c81e1e"/>
<rect x="777.0" y="289" width="1" height="4" fill="#f05050"/>
<line x1="781.5" y1="267" x2="781.5" y2="294" stroke="#777777" stroke-width="1"/>
<rect x="780.0" y="285" width="3" height="6" fill="#2a8a1e"/>
<rect x="781.0" y="286" width="1" height="4" fill="#5dbb38"/>
<line x1="786.5" y1="276" x2="786.5" y2="291" stroke="#777777" stroke-width="1"/>
<rect x="785.0" y="283" width="3" height="4" fill="#c81e1e"/>
<rect x="786.0" y="284" width="1" height="2" fill="#f05050"/>
<line x1="790.5" y1="264" x2="790.5" y2="283" stroke="#777777" stroke-width="1"/>
<rect x="789.0" y="268" width="3" height="15" fill="#2a8a1e"/>
<rect x="790.0" y="269" width="1" height="13" fill="#5dbb38"/>
<line x1="795.5" y1="253" x2="795.5" y2="268" stroke="#777777" stroke-width="1"/>
<rect x="794.0" y="254" width="3" height="12" fill="#2a8a1e"/>
<rect x="795.0" y="255" width="1" height="10" fill="#5dbb38"/>
<line x1="799.5" y1="242" x2="799.5" y2="259" stroke="#777777" stroke-width="1"/>
<rect x="798.0" y="247" width="3" height="4" fill="#c81e1e"/>
<rect x="799.0" y="248" width="1" height="2" fill="#f05050"/>
<line x1="804.5" y1="245" x2="804.5" y2="254" stroke="#777777" stroke-width="1"/>
<rect x="803.0" y="251" width="3" height="2" fill="#c81e1e"/>
<line x1="808.5" y1="243" x2="808.5" y2="263" stroke="#777777" stroke-width="1"/>
<rect x="807.0" y="243" width="3" height="11" fill="#2a8a1e"/>
<rect x="808.0" y="244" width="1" height="9" fill="#5dbb38"/>
<line x1="813.5" y1="234" x2="813.5" y2="256" stroke="#777777" stroke-width="1"/>
<rect x="812.0" y="246" width="3" height="7" fill="#c81e1e"/>
<rect x="813.0" y="247" width="1" height="5" fill="#f05050"/>
<line x1="817.5" y1="245" x2="817.5" y2="257" stroke="#777777" stroke-width="1"/>
<rect x="816.0" y="252" width="3" height="2" fill="#2a8a1e"/>
<line x1="822.5" y1="234" x2="822.5" y2="257" stroke="#777777" stroke-width="1"/>
<rect x="821.0" y="237" width="3" height="19" fill="#2a8a1e"/>
<rect x="822.0" y="238" width="1" height="17" fill="#5dbb38"/>
<line x1="826.5" y1="227" x2="826.5" y2="244" stroke="#777777" stroke-width="1"/>
<rect x="825.0" y="231" width="3" height="6" fill="#2a8a1e"/>
<rect x="826.0" y="232" width="1" height="4" fill="#5dbb38"/>
<line x1="831.5" y1="225" x2="831.5" y2="237" stroke="#777777" stroke-width="1"/>
<rect x="830.0" y="228" width="3" height="1" fill="#2a8a1e"/>
<line x1="835.5" y1="222" x2="835.5" y2="234" stroke="#777777" stroke-width="1"/>
<rect x="834.0" y="228" width="3" height="6" fill="#c81e1e"/>
<rect x="835.0" y="229" width="1" height="4" fill="#f05050"/>
<line x1="840.5" y1="214" x2="840.5" y2="235" stroke="#777777" stroke-width="1"/>
<rect x="839.0" y="221" width="3" height="10" fill="#2a8a1e"/>
<rect x="840.0" y="222" width="1" height="8" fill="#5dbb38"/>
<line x1="844.5" y1="217" x2="844.5" y2="231" stroke="#777777" stroke-width="1"/>
<rect x="843.0" y="218" width="3" height="12" fill="#c81e1e"/>
<rect x="844.0" y="219" width="1" height="10" fill="#f05050"/>
<line x1="849.5" y1="201" x2="849.5" y2="230" stroke="#777777" stroke-width="1"/>
<rect x="848.0" y="207" width="3" height="23" fill="#2a8a1e"/>
<rect x="849.0" y="208" width="1" height="21" fill="#5dbb38"/>
<line x1="853.5" y1="197" x2="853.5" y2="223" stroke="#777777" stroke-width="1"/>
<rect x="852.0" y="200" width="3" height="23" fill="#2a8a1e"/>
<rect x="853.0" y="201" width="1" height="21" fill="#5dbb38"/>
<line x1="858.5" y1="199" x2="858.5" y2="213" stroke="#777777" stroke-width="1"/>
<rect x="857.0" y="201" width="3" height="11" fill="#c81e1e"/>
<rect x="858.0" y="202" width="1" height="9" fill="#f05050"/>
<line x1="862.5" y1="198" x2="862.5" y2="211" stroke="#777777" stroke-width="1"/>
<rect x="861.0" y="206" width="3" height="4" fill="#2a8a1e"/>
<rect x="862.0" y="207" width="1" height="2" fill="#5dbb38"/>
<line x1="867.5" y1="201" x2="867.5" y2="212" stroke="#777777" stroke-width="1"/>
<rect x="866.0" y="203" width="3" height="1" fill="#c81e1e"/>
<line x1="871.5" y1="191" x2="871.5" y2="210" stroke="#777777" stroke-width="1"/>
<rect x="870.0" y="191" width="3" height="17" fill="#2a8a1e"/>
<rect x="871.0" y="192" width="1" height="15" fill="#5dbb38"/>
<line x1="876.5" y1="192" x2="876.5" y2="208" stroke="#777777" stroke-width="1"/>
<rect x="875.0" y="192" width="3" height="15" fill="#c81e1e"/>
<rect x="876.0" y="193" width="1" height="13" fill="#f05050"/>
<line x1="880.5" y1="197" x2="880.5" y2="211" stroke="#777777" stroke-width="1"/>
<rect x="879.0" y="201" width="3" height="6" fill="#c81e1e"/>
<rect x="880.0" y="202" width="1" height="4" fill="#f05050"/>
<line x1="885.5" y1="201" x2="885.5" y2="223" stroke="#777777" stroke-width="1"/>
<rect x="884.0" y="206" width="3" height="12" fill="#c81e1e"/>
<rect x="885.0" y="207" width="1" height="10" fill="#f05050"/>
<line x1="889.5" y1="221" x2="889.5" y2="232" stroke="#777777" stroke-width="1"/>
<rect x="888.0" y="225" width="3" height="7" fill="#c81e1e"/>
<rect x="889.0" y="226" width="1" height="5" fill="#f05050"/>
<line x1="894.5" y1="220" x2="894.5" y2="239" stroke="#777777" stroke-width="1"/>
<rect x="893.0" y="231" width="3" height="8" fill="#c81e1e"/>
<rect x="894.0" y="232" width="1" height="6" fill="#f05050"/>
<line x1="898.5" y1="236" x2="898.5" y2="262" stroke="#777777" stroke-width="1"/>
<rect x="897.0" y="236" width="3" height="15" fill="#c81e1e"/>
<rect x="898.0" y="237" width="1" height="13" fill="#f05050"/>
<line x1="903.5" y1="255" x2="903.5" y2="295" stroke="#777777" stroke-width="1"/>
<rect x="902.0" y="257" width="3" height="28" fill="#c81e1e"/>
<rect x="903.0" y="258" width="1" height="26" fill="#f05050"/>
<line x1="907.5" y1="285" x2="907.5" y2="312" stroke="#777777" stroke-width="1"/>
<rect x="906.0" y="285" width="3" height="13" fill="#c81e1e"/>
<rect x="907.0" y="286" width="1" height="11" fill="#f05050"/>
<line x1="912.5" y1="279" x2="912.5" y2="307" stroke="#777777" stroke-width="1"/>
<rect x="911.0" y="280" width="3" height="13" fill="#2a8a1e"/>
<rect x="912.0" y="281" width="1" height="11" fill="#5dbb38"/>
<line x1="916.5" y1="272" x2="916.5" y2="290" stroke="#777777" stroke-width="1"/>
<rect x="915.0" y="281" width="3" height="4" fill="#2a8a1e"/>
<rect x="916.0" y="282" width="1" height="2" fill="#5dbb38"/>
<line x1="921.5" y1="264" x2="921.5" y2="278" stroke="#777777" stroke-width="1"/>
<rect x="920.0" y="266" width="3" height="12" fill="#2a8a1e"/>
<rect x="921.0" y="267" width="1" height="10" fill="#5dbb38"/>
<line x1="925.5" y1="258" x2="925.5" y2="272" stroke="#777777" stroke-width="1"/>
<rect x="924.0" y="263" width="3" height="8" fill="#2a8a1e"/>
<rect x="925.0" y="264" width="1" height="6" fill="#5dbb38"/>
<line x1="930.5" y1="274" x2="930.5" y2="295" stroke="#777777" stroke-width="1"/>
<rect x="929.0" y="285" width="3" height="6" fill="#c81e1e"/>
<rect x="930.0" y="286" width="1" height="4" fill="#f05050"/>
<line x1="934.5" y1="276" x2="934.5" y2="296" stroke="#777777" stroke-width="1"/>
<rect x="933.0" y="290" width="3" height="5" fill="#2a8a1e"/>
<rect x="934.0" y="291" width="1" height="3" fill="#5dbb38"/>
<line x1="939.5" y1="292" x2="939.5" y2="307" stroke="#777777" stroke-width="1"/>
<rect x="938.0" y="298" width="3" height="5" fill="#c81e1e"/>
<rect x="939.0" y="299" width="1" height="3" fill="#f05050"/>
<line x1="943.5" y1="294" x2="943.5" y2="307" stroke="#777777" stroke-width="1"/>
<rect x="942.0" y="297" width="3" height="5" fill="#2a8a1e"/>
<rect x="943.0" y="298" width="1" height="3" fill="#5dbb38"/>
<line x1="948.5" y1="283" x2="948.5" y2="294" stroke="#777777" stroke-width="1"/>
<rect x="947.0" y="285" width="3" height="9" fill="#2a8a1e"/>
<rect x="948.0" y="286" width="1" height="7" fill="#5dbb38"/>
<line x1="953.5" y1="274" x2="953.5" y2="285" stroke="#777777" stroke-width="1"/>
<rect x="952.0" y="276" width="3" height="3" fill="#2a8a1e"/>
<rect x="953.0" y="277" width="1" height="1" fill="#5dbb38"/>
<line x1="957.5" y1="267" x2="957.5" y2="282" stroke="#777777" stroke-width="1"/>
<rect x="956.0" y="277" width="3" height="1" fill="#c81e1e"/>
<line x1="962.5" y1="270" x2="962.5" y2="294" stroke="#777777" stroke-width="1"/>
<rect x="961.0" y="274" width="3" height="19" fill="#c81e1e"/>
<rect x="962.0" y="275" width="1" height="17" fill="#f05050"/>
<line x1="966.5" y1="291" x2="966.5" y2="333" stroke="#777777" stroke-width="1"/>
<rect x="965.0" y="292" width="3" height="40" fill="#c81e1e"/>
<rect x="966.0" y="293" width="1" height="38" fill="#f05050"/>
<line x1="971.5" y1="323" x2="971.5" y2="349" stroke="#777777" stroke-width="1"/>
<rect x="970.0" y="335" width="3" height="10" fill="#c81e1e"/>
<rect x="971.0" y="336" width="1" height="8" fill="#f05050"/>
<line x1="975.5" y1="338" x2="975.5" y2="362" stroke="#777777" stroke-width="1"/>
<rect x="974.0" y="339" width="3" height="20" fill="#c81e1e"/>
<rect x="975.0" y="340" width="1" height="18" fill="#f05050"/>
<line x1="980.5" y1="356" x2="980.5" y2="393" stroke="#777777" stroke-width="1"/>
<rect x="979.0" y="357" width="3" height="34" fill="#c81e1e"/>
<rect x="980.0" y="358" width="1" height="32" fill="#f05050"/>
<line x1="984.5" y1="373" x2="984.5" y2="397" stroke="#777777" stroke-width="1"/>
<rect x="983.0" y="375" width="3" height="19" fill="#2a8a1e"/>
<rect x="984.0" y="376" width="1" height="17" fill="#5dbb38"/>
<line x1="989.5" y1="357" x2="989.5" y2="372" stroke="#777777" stroke-width="1"/>
<rect x="988.0" y="361" width="3" height="10" fill="#2a8a1e"/>
<rect x="989.0" y="362" width="1" height="8" fill="#5dbb38"/>
<line x1="993.5" y1="354" x2="993.5" y2="367" stroke="#777777" stroke-width="1"/>
<rect x="992.0" y="359" width="3" height="4" fill="#c81e1e"/>
<rect x="993.0" y="360" width="1" height="2" fill="#f05050"/>
<line x1="998.5" y1="361" x2="998.5" y2="383" stroke="#777777" stroke-width="1"/>
<rect x="997.0" y="364" width="3" height="11" fill="#c81e1e"/>
<rect x="998.0" y="365" width="1" height="9" fill="#f05050"/>
<line x1="1002.5" y1="365" x2="1002.5" y2="399" stroke="#777777" stroke-width="1"/>
<rect x="1001.0" y="371" width="3" height="7" fill="#c81e1e"/>
<rect x="1002.0" y="372" width="1" height="5" fill="#f05050"/>
<line x1="1007.5" y1="360" x2="1007.5" y2="380" stroke="#777777" stroke-width="1"/>
<rect x="1006.0" y="364" width="3" height="8" fill="#2a8a1e"/>
<rect x="1007.0" y="365" width="1" height="6" fill="#5dbb38"/>
<line x1="1011.5" y1="358" x2="1011.5" y2="383" stroke="#777777" stroke-width="1"/>
<rect x="1010.0" y="365" width="3" height="18" fill="#c81e1e"/>
<rect x="1011.0" y="366" width="1" height="16" fill="#f05050"/>
<line x1="1016.5" y1="378" x2="1016.5" y2="402" stroke="#777777" stroke-width="1"/>
<rect x="1015.0" y="380" width="3" height="3" fill="#2a8a1e"/>
<rect x="1016.0" y="381" width="1" height="1" fill="#5dbb38"/>
<line x1="1020.5" y1="369" x2="1020.5" y2="398" stroke="#777777" stroke-width="1"/>
<rect x="1019.0" y="369" width="3" height="12" fill="#2a8a1e"/>
<rect x="1020.0" y="370" width="1" height="10" fill="#5dbb38"/>
<line x1="1025.5" y1="367" x2="1025.5" y2="380" stroke="#777777" stroke-width="1"/>
<rect x="1024.0" y="371" width="3" height="3" fill="#c81e1e"/>
<rect x="1025.0" y="372" width="1" height="1" fill="#f05050"/>
<line x1="1029.5" y1="363" x2="1029.5" y2="392" stroke="#777777" stroke-width="1"/>
<rect x="1028.0" y="364" width="3" height="5" fill="#2a8a1e"/>
<rect x="1029.0" y="365" width="1" height="3" fill="#5dbb38"/>
<line x1="1034.5" y1="342" x2="1034.5" y2="367" stroke="#777777" stroke-width="1"/>
<rect x="1033.0" y="354" width="3" height="12" fill="#2a8a1e"/>
<rect x="1034.0" y="355" width="1" height="10" fill="#5dbb38"/>
<line x1="1038.5" y1="343" x2="1038.5" y2="358" stroke="#777777" stroke-width="1"/>
<rect x="1037.0" y="344" width="3" height="14" fill="#2a8a1e"/>
<rect x="1038.0" y="345" width="1" height="12" fill="#5dbb38"/>
<line x1="1043.5" y1="339" x2="1043.5" y2="353" stroke="#777777" stroke-width="1"/>
<rect x="1042.0" y="344" width="3" height="2" fill="#c81e1e"/>
<line x1="1047.5" y1="340" x2="1047.5" y2="358" stroke="#777777" stroke-width="1"/>
<rect x="1046.0" y="341" width="3" height="5" fill="#2a8a1e"/>
<rect x="1047.0" y="342" width="1" height="3" fill="#5dbb38"/>
<line x1="1052.5" y1="336" x2="1052.5" y2="356" stroke="#777777" stroke-width="1"/>
<rect x="1051.0" y="337" width="3" height="11" fill="#c81e1e"/>
<rect x="1052.0" y="338" width="1" height="9" fill="#f05050"/>
<line x1="1056.5" y1="331" x2="1056.5" y2="358" stroke="#777777" stroke-width="1"/>
<rect x="1055.0" y="342" width="3" height="4" fill="#c81e1e"/>
<rect x="1056.0" y="343" width="1" height="2" fill="#f05050"/>
<line x1="1061.5" y1="340" x2="1061.5" y2="354" stroke="#777777" stroke-width="1"/>
<rect x="1060.0" y="351" width="3" height="2" fill="#2a8a1e"/>
<line x1="1065.5" y1="349" x2="1065.5" y2="355" stroke="#777777" stroke-width="1"/>
<rect x="1064.0" y="350" width="3" height="1" fill="#c81e1e"/>
<line x1="1070.5" y1="338" x2="1070.5" y2="359" stroke="#777777" stroke-width="1"/>
<rect x="1069.0" y="349" width="3" height="5" fill="#c81e1e"/>
<rect x="1070.0" y="350" width="1" height="3" fill="#f05050"/>
<line x1="1074.5" y1="350" x2="1074.5" y2="404" stroke="#777777" stroke-width="1"/>
<rect x="1073.0" y="352" width="3" height="50" fill="#c81e1e"/>
<rect x="1074.0" y="353" width="1" height="48" fill="#f05050"/>
<line x1="1079.5" y1="390" x2="1079.5" y2="422" stroke="#777777" stroke-width="1"/>
<rect x="1078.0" y="401" width="3" height="17" fill="#c81e1e"/>
<rect x="1079.0" y="402" width="1" height="15" fill="#f05050"/>
<line x1="1083.5" y1="408" x2="1083.5" y2="430" stroke="#777777" stroke-width="1"/>
<rect x="1082.0" y="408" width="3" height="15" fill="#c81e1e"/>
<rect x="1083.0" y="409" width="1" height="13" fill="#f05050"/>
<line x1="1088.5" y1="422" x2="1088.5" y2="452" stroke="#777777" stroke-width="1"/>
<rect x="1087.0" y="424" width="3" height="27" fill="#c81e1e"/>
<rect x="1088.0" y="425" width="1" height="25" fill="#f05050"/>
<line x1="1092.5" y1="442" x2="1092.5" y2="464" stroke="#777777" stroke-width="1"/>
<rect x="1091.0" y="454" width="3" height="1" fill="#2a8a1e"/>
<line x1="1097.5" y1="455" x2="1097.5" y2="469" stroke="#777777" stroke-width="1"/>
<rect x="1096.0" y="456" width="3" height="5" fill="#c81e1e"/>
<rect x="1097.0" y="457" width="1" height="3" fill="#f05050"/>
<line x1="1101.5" y1="439" x2="1101.5" y2="464" stroke="#777777" stroke-width="1"/>
<rect x="1100.0" y="439" width="3" height="18" fill="#2a8a1e"/>
<rect x="1101.0" y="440" width="1" height="16" fill="#5dbb38"/>
<line x1="1106.5" y1="431" x2="1106.5" y2="448" stroke="#777777" stroke-width="1"/>
<rect x="1105.0" y="440" width="3" height="4" fill="#2a8a1e"/>
<rect x="1106.0" y="441" width="1" height="2" fill="#5dbb38"/>
<line x1="1110.5" y1="434" x2="1110.5" y2="458" stroke="#777777" stroke-width="1"/>
<rect x="1109.0" y="440" width="3" height="1" fill="#2a8a1e"/>
<line x1="1115.5" y1="428" x2="1115.5" y2="445" stroke="#777777" stroke-width="1"/>
<rect x="1114.0" y="432" width="3" height="8" fill="#2a8a1e"/>
<rect x="1115.0" y="433" width="1" height="6" fill="#5dbb38"/>
<line x1="1119.5" y1="424" x2="1119.5" y2="444" stroke="#777777" stroke-width="1"/>
<rect x="1118.0" y="431" width="3" height="7" fill="#c81e1e"/>
<rect x="1119.0" y="432" width="1" height="5" fill="#f05050"/>
<line x1="1124.5" y1="429" x2="1124.5" y2="445" stroke="#777777" stroke-width="1"/>
<rect x="1123.0" y="433" width="3" height="11" fill="#c81e1e"/>
<rect x="1124.0" y="434" width="1" height="9" fill="#f05050"/>
<line x1="1128.5" y1="435" x2="1128.5" y2="450" stroke="#777777" stroke-width="1"/>
<rect x="1127.0" y="440" width="3" height="2" fill="#2a8a1e"/>
<line x1="1133.5" y1="432" x2="1133.5" y2="442" stroke="#777777" stroke-width="1"/>
<rect x="1132.0" y="436" width="3" height="1" fill="#2a8a1e"/>
<line x1="1137.5" y1="420" x2="1137.5" y2="436" stroke="#777777" stroke-width="1"/>
<rect x="1136.0" y="424" width="3" height="12" fill="#2a8a1e"/>
<rect x="1137.0" y="425" width="1" height="10" fill="#5dbb38"/>
<line x1="1142.5" y1="416" x2="1142.5" y2="427" stroke="#777777" stroke-width="1"/>
<rect x="1141.0" y="421" width="3" height="5" fill="#c81e1e"/>
<rect x="1142.0" y="422" width="1" height="3" fill="#f05050"/>
<line x1="1146.5" y1="427" x2="1146.5" y2="445" stroke="#777777" stroke-width="1"/>
<rect x="1145.0" y="430" width="3" height="7" fill="#c81e1e"/>
<rect x="1146.0" y="431" width="1" height="5" fill="#f05050"/>
<line x1="1151.5" y1="422" x2="1151.5" y2="435" stroke="#777777" stroke-width="1"/>
<rect x="1150.0" y="425" width="3" height="7" fill="#2a8a1e"/>
<rect x="1151.0" y="426" width="1" height="5" fill="#5dbb38"/>
<line x1="1155.5" y1="422" x2="1155.5" y2="448" stroke="#777777" stroke-width="1"/>
<rect x="1154.0" y="423" width="3" height="24" fill="#c81e1e"/>
<rect x="1155.0" y="424" width="1" height="22" fill="#f05050"/>
<line x1="1160.5" y1="440" x2="1160.5" y2="459" stroke="#777777" stroke-width="1"/>
<rect x="1159.0" y="445" width="3" height="12" fill="#c81e1e"/>
<rect x="1160.0" y="446" width="1" height="10" fill="#f05050"/>
<line x1="1164.5" y1="455" x2="1164.5" y2="491" stroke="#777777" stroke-width="1"/>
<rect x="1163.0" y="457" width="3" height="32" fill="#c81e1e"/>
<rect x="1164.0" y="458" width="1" height="30" fill="#f05050"/>
<line x1="1169.5" y1="479" x2="1169.5" y2="494" stroke="#777777" stroke-width="1"/>
<rect x="1168.0" y="480" width="3" height="8" fill="#2a8a1e"/>
<rect x="1169.0" y="481" width="1" height="6" fill="#5dbb38"/>
<line x1="1173.5" y1="452" x2="1173.5" y2="477" stroke="#777777" stroke-width="1"/>
<rect x="1172.0" y="460" width="3" height="16" fill="#2a8a1e"/>
<rect x="1173.0" y="461" width="1" height="14" fill="#5dbb38"/>
<line x1="1178.5" y1="457" x2="1178.5" y2="472" stroke="#777777" stroke-width="1"/>
<rect x="1177.0" y="458" width="3" height="13" fill="#c81e1e"/>
<rect x="1178.0" y="459" width="1" height="11" fill="#f05050"/>
<line x1="1182.5" y1="460" x2="1182.5" y2="475" stroke="#777777" stroke-width="1"/>
<rect x="1181.0" y="467" width="3" height="7" fill="#c81e1e"/>
<rect x="1182.0" y="468" width="1" height="5" fill="#f05050"/>
<line x1="1187.5" y1="467" x2="1187.5" y2="493" stroke="#777777" stroke-width="1"/>
<rect x="1186.0" y="476" width="3" height="12" fill="#c81e1e"/>
<rect x="1187.0" y="477" width="1" height="10" fill="#f05050"/>
<line x1="1191.5" y1="449" x2="1191.5" y2="493" stroke="#777777" stroke-width="1"/>
<rect x="1190.0" y="476" width="3" height="12" fill="#2a8a1e"/>
<rect x="1191.0" y="477" width="1" height="10" fill="#5dbb38"/>
<line x1="1196.5" y1="453" x2="1196.5" y2="488" stroke="#777777" stroke-width="1"/>
<rect x="1195.0" y="459" width="3" height="28" fill="#c81e1e"/>
<rect x="1196.0" y="460" width="1" height="26" fill="#f05050"/>
<line x1="1200.5" y1="471" x2="1200.5" y2="490" stroke="#777777" stroke-width="1"/>
<rect x="1199.0" y="476" width="3" height="13" fill="#c81e1e"/>
<rect x="1200.0" y="477" width="1" height="11" fill="#f05050"/>
<line x1="1205.5" y1="494" x2="1205.5" y2="512" stroke="#777777" stroke-width="1"/>
<rect x="1204.0" y="497" width="3" height="8" fill="#c81e1e"/>
<rect x="1205.0" y="498" width="1" height="6" fill="#f05050"/>
<line x1="1209.5" y1="497" x2="1209.5" y2="522" stroke="#777777" stroke-width="1"/>
<rect x="1208.0" y="498" width="3" height="23" fill="#c81e1e"/>
<rect x="1209.0" y="499" width="1" height="21" fill="#f05050"/>
<line x1="1214.5" y1="501" x2="1214.5" y2="526" stroke="#777777" stroke-width="1"/>
<rect x="1213.0" y="508" width="3" height="13" fill="#2a8a1e"/>
<rect x="1214.0" y="509" width="1" height="11" fill="#5dbb38"/>
<line x1="1218.5" y1="507" x2="1218.5" y2="547" stroke="#777777" stroke-width="1"/>
<rect x="1217.0" y="510" width="3" height="32" fill="#c81e1e"/>
<rect x="1218.0" y="511" width="1" height="30" fill="#f05050"/>
<line x1="1223.5" y1="517" x2="1223.5" y2="542" stroke="#777777" stroke-width="1"/>
<rect x="1222.0" y="519" width="3" height="23" fill="#2a8a1e"/>
<rect x="1223.0" y="520" width="1" height="21" fill="#5dbb38"/>
<line x1="1227.5" y1="503" x2="1227.5" y2="529" stroke="#777777" stroke-width="1"/>
<rect x="1226.0" y="515" width="3" height="7" fill="#2a8a1e"/>
<rect x="1227.0" y="516" width="1" height="5" fill="#5dbb38"/>
<line x1="1232.5" y1="511" x2="1232.5" y2="536" stroke="#777777" stroke-width="1"/>
<rect x="1231.0" y="517" width="3" height="18" fill="#c81e1e"/>
<rect x="1232.0" y="518" width="1" height="16" fill="#f05050"/>
<line x1="1236.5" y1="516" x2="1236.5" y2="536" stroke="#777777" stroke-width="1"/>
<rect x="1235.0" y="527" width="3" height="8" fill="#2a8a1e"/>
<rect x="1236.0" y="528" width="1" height="6" fill="#5dbb38"/>
<line x1="1241.5" y1="515" x2="1241.5" y2="530" stroke="#777777" stroke-width="1"/>
<rect x="1240.0" y="522" width="3" height="6" fill="#c81e1e"/>
<rect x="1241.0" y="523" width="1" height="4" fill="#f05050"/>
<line x1="1245.5" y1="529" x2="1245.5" y2="540" stroke="#777777" stroke-width="1"/>
<rect x="1244.0" y="535" width="3" height="3" fill="#2a8a1e"/>
<rect x="1245.0" y="536" width="1" height="1" fill="#5dbb38"/>
<line x1="1250.5" y1="523" x2="1250.5" y2="538" stroke="#777777" stroke-width="1"/>
<rect x="1249.0" y="534" width="3" height="4" fill="#2a8a1e"/>
<rect x="1250.0" y="535" width="1" height="2" fill="#5dbb38"/>
<line x1="1254.5" y1="514" x2="1254.5" y2="539" stroke="#777777" stroke-width="1"/>
<rect x="1253.0" y="520" width="3" height="16" fill="#c81e1e"/>
<rect x="1254.0" y="521" width="1" height="14" fill="#f05050"/>
<line x1="1259.5" y1="532" x2="1259.5" y2="551" stroke="#777777" stroke-width="1"/>
<rect x="1258.0" y="535" width="3" height="10" fill="#c81e1e"/>
<rect x="1259.0" y="536" width="1" height="8" fill="#f05050"/>
<line x1="1263.5" y1="527" x2="1263.5" y2="545" stroke="#777777" stroke-width="1"/>
<rect x="1262.0" y="528" width="3" height="13" fill="#2a8a1e"/>
<rect x="1263.0" y="529" width="1" height="11" fill="#5dbb38"/>
<line x1="1268.5" y1="502" x2="1268.5" y2="532" stroke="#777777" stroke-width="1"/>
<rect x="1267.0" y="507" width="3" height="21" fill="#c81e1e"/>
<rect x="1268.0" y="508" width="1" height="19" fill="#f05050"/>
<line x1="1272.5" y1="490" x2="1272.5" y2="531" stroke="#777777" stroke-width="1"/>
<rect x="1271.0" y="492" width="3" height="36" fill="#2a8a1e"/>
<rect x="1272.0" y="493" width="1" height="34" fill="#5dbb38"/>
<line x1="1277.5" y1="466" x2="1277.5" y2="490" stroke="#777777" stroke-width="1"/>
<rect x="1276.0" y="485" width="3" height="4" fill="#c81e1e"/>
<rect x="1277.0" y="486" width="1" height="2" fill="#f05050"/>
<line x1="1281.5" y1="483" x2="1281.5" y2="499" stroke="#777777" stroke-width="1"/>
<rect x="1280.0" y="487" width="3" height="6" fill="#c81e1e"/>
<rect x="1281.0" y="488" width="1" height="4" fill="#f05050"/>
<line x1="1286.5" y1="461" x2="1286.5" y2="492" stroke="#777777" stroke-width="1"/>
<rect x="1285.0" y="463" width="3" height="27" fill="#2a8a1e"/>
<rect x="1286.0" y="464" width="1" height="25" fill="#5dbb38"/>
<line x1="1290.5" y1="460" x2="1290.5" y2="494" stroke="#777777" stroke-width="1"/>
<rect x="1289.0" y="462" width="3" height="26" fill="#c81e1e"/>
<rect x="1290.0" y="463" width="1" height="24" fill="#f05050"/>
<line x1="1295.5" y1="481" x2="1295.5" y2="494" stroke="#777777" stroke-width="1"/>
<rect x="1294.0" y="490" width="3" height="1" fill="#2a8a1e"/>
<line x1="1299.5" y1="483" x2="1299.5" y2="500" stroke="#777777" stroke-width="1"/>
<rect x="1298.0" y="485" width="3" height="13" fill="#c81e1e"/>
<rect x="1299.0" y="486" width="1" height="11" fill="#f05050"/>
<line x1="1304.5" y1="471" x2="1304.5" y2="534" stroke="#777777" stroke-width="1"/>
<rect x="1303.0" y="476" width="3" height="39" fill="#c81e1e"/>
<rect x="1304.0" y="477" width="1" height="37" fill="#f05050"/>
<line x1="1308.5" y1="457" x2="1308.5" y2="522" stroke="#777777" stroke-width="1"/>
<rect x="1307.0" y="459" width="3" height="62" fill="#2a8a1e"/>
<rect x="1308.0" y="460" width="1" height="60" fill="#5dbb38"/>
<line x1="1313.5" y1="421" x2="1313.5" y2="453" stroke="#777777" stroke-width="1"/>
<rect x="1312.0" y="451" width="3" height="1" fill="#2a8a1e"/>
<line x1="1317.5" y1="436" x2="1317.5" y2="470" stroke="#777777" stroke-width="1"/>
<rect x="1316.0" y="449" width="3" height="20" fill="#c81e1e"/>
<rect x="1317.0" y="450" width="1" height="18" fill="#f05050"/>
<line x1="1322.5" y1="429" x2="1322.5" y2="462" stroke="#777777" stroke-width="1"/>
<rect x="1321.0" y="434" width="3" height="19" fill="#2a8a1e"/>
<rect x="1322.0" y="435" width="1" height="17" fill="#5dbb38"/>
<line x1="1326.5" y1="418" x2="1326.5" y2="444" stroke="#777777" stroke-width="1"/>
<rect x="1325.0" y="424" width="3" height="9" fill="#2a8a1e"/>
<rect x="1326.0" y="425" width="1" height="7" fill="#5dbb38"/>
<line x1="1331.5" y1="401" x2="1331.5" y2="424" stroke="#777777" stroke-width="1"/>
<rect x="1330.0" y="404" width="3" height="19" fill="#2a8a1e"/>
<rect x="1331.0" y="405" width="1" height="17" fill="#5dbb38"/>
</g>
<line x1="882.5" y1="188.9" x2="1322" y2="552" stroke="#9a9a9a" stroke-width="1.1" stroke-dasharray="6 5"/>
<line x1="880.5" y1="290" x2="1323" y2="654" stroke="#9a9a9a" stroke-width="1.1" stroke-dasharray="6 5"/>
<line x1="877.6" y1="192.8" x2="1300.6" y2="573.7" stroke="#909090" stroke-width="1"/>
<line x1="0" y1="25.5" x2="1395" y2="25.5" stroke="#1030ff" stroke-width="1.3" />
<line x1="0" y1="42.3" x2="1439.5" y2="276.4" stroke="#111" stroke-width="1.2" />
<line x1="0" y1="121.2" x2="1376.6" y2="508.5" stroke="#111" stroke-width="1.2" />
<line x1="0" y1="157.6" x2="1470.3" y2="210.5" stroke="#111" stroke-width="1.2" />
<line x1="0" y1="202.5" x2="1308" y2="309.5" stroke="#8a8a8a" stroke-width="1.1" />
<line x1="0" y1="266.9" x2="1493.5" y2="363.5" stroke="#111" stroke-width="1.2" />
<line x1="0" y1="485.1" x2="1751" y2="207.9" stroke="#ff1a1a" stroke-width="1.1" />
<line x1="0" y1="145.8" x2="1376.2" y2="581.3" stroke="#ff00ff" stroke-width="2.6" />
<line x1="0" y1="423.8" x2="1394.6" y2="570.6" stroke="#000" stroke-width="2.3" />
<line x1="0" y1="682.5" x2="199.3" y2="716.2" stroke="#111" stroke-width="1.2" />
<line x1="116" y1="450" x2="318" y2="450" stroke="#ff0000" stroke-width="4" />
<line x1="868" y1="329.7" x2="1138" y2="329.7" stroke="#ff0033" stroke-width="4" />
<line x1="1161" y1="549.6" x2="1363.3" y2="549.6" stroke="#ff0000" stroke-width="4" />
<line x1="1354" y1="361.5" x2="1444.3" y2="361.5" stroke="#ff0033" stroke-width="2.4" />
<line x1="219.2" y1="448" x2="1531" y2="448" stroke="#000" stroke-width="4" stroke-dasharray="16 8"/>
<line x1="876.8" y1="205.7" x2="876.8" y2="301.4" stroke="#1a1aff" stroke-width="4" />
<line x1="958.2" y1="281.7" x2="958.2" y2="393.4" stroke="#1a1aff" stroke-width="4" />
<line x1="1066.1" y1="354.9" x2="1066.1" y2="466.8" stroke="#1a1aff" stroke-width="4" />
<line x1="1196.9" y1="469.1" x2="1196.9" y2="548.1" stroke="#1a1aff" stroke-width="4" />
<line x1="1259.7" y1="560.4" x2="1259.7" y2="672.8" stroke="#1a1aff" stroke-width="4" stroke-dasharray="4 4"/>
<line x1="1381.5" y1="0" x2="1381.5" y2="695" stroke="#000" stroke-width="1.1" />
<line x1="1475.5" y1="0" x2="1475.5" y2="695" stroke="#000" stroke-width="1.1" />
<rect x="1422.5" y="613.5" width="114" height="68" fill="#fffdee" stroke="#888" stroke-width="1"/>
<g font-size="12" fill="#222" text-anchor="middle">
<text x="1479.5" y="627.8">30.01.-01.02.20</text>
<text x="1479.5" y="643.8">EHA-EMBT-Meeting,</text>
<text x="1479.5" y="659.8">Sitges, Barcelona</text>
<text x="1479.5" y="675.8">CAR-T</text>
</g>
<line x1="1475.5" y1="600" x2="1475.5" y2="695" stroke="#000" stroke-width="1.1" />
<rect x="1343" y="695" width="74" height="21" fill="#000"/>
<rect x="1438" y="695" width="74" height="21" fill="#000"/>
<g font-size="12" font-weight="bold" fill="#fff" text-anchor="middle"><text x="1380" y="709.3">01.01.2020</text><text x="1475" y="709.3">30.01.2020</text></g>
<g shape-rendering="crispEdges" stroke="#fff" stroke-width="1"><line x1="1381.5" y1="713" x2="1381.5" y2="716"/><line x1="1475.5" y1="713" x2="1475.5" y2="716"/></g>
<g font-size="12" fill="#555" text-anchor="middle">
<text x="61.5" y="708.8">Nov</text>
<text x="155.5" y="708.8">Dez</text>
<text x="241.5" y="708.8">Jan '19</text>
<text x="336.5" y="708.8">Feb</text>
<text x="421.5" y="708.8">Mär</text>
<text x="516.5" y="708.8">Apr</text>
<text x="610.5" y="708.8">Mai</text>
<text x="709.5" y="708.8">Jun</text>
<text x="799.5" y="708.8">Jul</text>
<text x="898.5" y="708.8">Aug</text>
<text x="998.5" y="708.8">Sep</text>
<text x="1088.5" y="708.8">Okt</text>
<text x="1191.5" y="708.8">Nov</text>
<text x="1281.5" y="708.8">Dez</text>
</g>
<g shape-rendering="crispEdges" stroke="#333" stroke-width="1">
<line x1="61.5" y1="713" x2="61.5" y2="716"/>
<line x1="155.5" y1="713" x2="155.5" y2="716"/>
<line x1="241.5" y1="713" x2="241.5" y2="716"/>
<line x1="336.5" y1="713" x2="336.5" y2="716"/>
<line x1="421.5" y1="713" x2="421.5" y2="716"/>
<line x1="516.5" y1="713" x2="516.5" y2="716"/>
<line x1="610.5" y1="713" x2="610.5" y2="716"/>
<line x1="709.5" y1="713" x2="709.5" y2="716"/>
<line x1="799.5" y1="713" x2="799.5" y2="716"/>
<line x1="898.5" y1="713" x2="898.5" y2="716"/>
<line x1="998.5" y1="713" x2="998.5" y2="716"/>
<line x1="1088.5" y1="713" x2="1088.5" y2="716"/>
<line x1="1191.5" y1="713" x2="1191.5" y2="716"/>
<line x1="1281.5" y1="713" x2="1281.5" y2="716"/>
</g>
<rect x="0" y="716" width="1805" height="3" fill="#e2e2e2"/>
<g shape-rendering="crispEdges">
<rect x="0" y="837" width="4" height="24" fill="#cc2a2a"/>
<rect x="1" y="838" width="2" height="23" fill="#f76060"/>
<rect x="5" y="836" width="3" height="25" fill="#2f8f1f"/>
<rect x="6" y="837" width="1" height="24" fill="#6cc43c"/>
<rect x="9" y="841" width="4" height="20" fill="#cc2a2a"/>
<rect x="10" y="842" width="2" height="19" fill="#f76060"/>
<rect x="14" y="829" width="3" height="32" fill="#cc2a2a"/>
<rect x="15" y="830" width="1" height="31" fill="#f76060"/>
<rect x="18" y="832" width="4" height="29" fill="#cc2a2a"/>
<rect x="19" y="833" width="2" height="28" fill="#f76060"/>
<rect x="23" y="832" width="3" height="29" fill="#cc2a2a"/>
<rect x="24" y="833" width="1" height="28" fill="#f76060"/>
<rect x="27" y="821" width="4" height="40" fill="#2f8f1f"/>
<rect x="28" y="822" width="2" height="39" fill="#6cc43c"/>
<rect x="32" y="824" width="3" height="37" fill="#cc2a2a"/>
<rect x="33" y="825" width="1" height="36" fill="#f76060"/>
<rect x="36" y="816" width="4" height="45" fill="#2f8f1f"/>
<rect x="37" y="817" width="2" height="44" fill="#6cc43c"/>
<rect x="41" y="825" width="3" height="36" fill="#cc2a2a"/>
<rect x="42" y="826" width="1" height="35" fill="#f76060"/>
<rect x="45" y="816" width="4" height="45" fill="#cc2a2a"/>
<rect x="46" y="817" width="2" height="44" fill="#f76060"/>
<rect x="50" y="834" width="3" height="27" fill="#2f8f1f"/>
<rect x="51" y="835" width="1" height="26" fill="#6cc43c"/>
<rect x="54" y="834" width="4" height="27" fill="#2f8f1f"/>
<rect x="55" y="835" width="2" height="26" fill="#6cc43c"/>
<rect x="59" y="814" width="3" height="47" fill="#2f8f1f"/>
<rect x="60" y="815" width="1" height="46" fill="#6cc43c"/>
<rect x="63" y="821" width="4" height="40" fill="#cc2a2a"/>
<rect x="64" y="822" width="2" height="39" fill="#f76060"/>
<rect x="68" y="832" width="3" height="29" fill="#cc2a2a"/>
<rect x="69" y="833" width="1" height="28" fill="#f76060"/>
<rect x="72" y="836" width="4" height="25" fill="#2f8f1f"/>
<rect x="73" y="837" width="2" height="24" fill="#6cc43c"/>
<rect x="77" y="837" width="3" height="24" fill="#cc2a2a"/>
<rect x="78" y="838" width="1" height="23" fill="#f76060"/>
<rect x="81" y="842" width="4" height="19" fill="#2f8f1f"/>
<rect x="82" y="843" width="2" height="18" fill="#6cc43c"/>
<rect x="86" y="839" width="3" height="22" fill="#cc2a2a"/>
<rect x="87" y="840" width="1" height="21" fill="#f76060"/>
<rect x="90" y="837" width="4" height="24" fill="#cc2a2a"/>
<rect x="91" y="838" width="2" height="23" fill="#f76060"/>
<rect x="95" y="842" width="3" height="19" fill="#cc2a2a"/>
<rect x="96" y="843" width="1" height="18" fill="#f76060"/>
<rect x="99" y="826" width="4" height="35" fill="#cc2a2a"/>
<rect x="100" y="827" width="2" height="34" fill="#f76060"/>
<rect x="104" y="843" width="3" height="18" fill="#2f8f1f"/>
<rect x="105" y="844" width="1" height="17" fill="#6cc43c"/>
<rect x="108" y="843" width="4" height="18" fill="#2f8f1f"/>
<rect x="109" y="844" width="2" height="17" fill="#6cc43c"/>
<rect x="113" y="839" width="3" height="22" fill="#cc2a2a"/>
<rect x="114" y="840" width="1" height="21" fill="#f76060"/>
<rect x="117" y="836" width="4" height="25" fill="#2f8f1f"/>
<rect x="118" y="837" width="2" height="24" fill="#6cc43c"/>
<rect x="122" y="845" width="3" height="16" fill="#cc2a2a"/>
<rect x="123" y="846" width="1" height="15" fill="#f76060"/>
<rect x="126" y="850" width="4" height="11" fill="#2f8f1f"/>
<rect x="127" y="851" width="2" height="10" fill="#6cc43c"/>
<rect x="131" y="834" width="3" height="27" fill="#2f8f1f"/>
<rect x="132" y="835" width="1" height="26" fill="#6cc43c"/>
<rect x="135" y="837" width="4" height="24" fill="#cc2a2a"/>
<rect x="136" y="838" width="2" height="23" fill="#f76060"/>
<rect x="140" y="831" width="3" height="30" fill="#cc2a2a"/>
<rect x="141" y="832" width="1" height="29" fill="#f76060"/>
<rect x="144" y="839" width="4" height="22" fill="#2f8f1f"/>
<rect x="145" y="840" width="2" height="21" fill="#6cc43c"/>
<rect x="149" y="837" width="3" height="24" fill="#cc2a2a"/>
<rect x="150" y="838" width="1" height="23" fill="#f76060"/>
<rect x="153" y="789" width="4" height="72" fill="#2f8f1f"/>
<rect x="154" y="790" width="2" height="71" fill="#6cc43c"/>
<rect x="158" y="818" width="3" height="43" fill="#cc2a2a"/>
<rect x="159" y="819" width="1" height="42" fill="#f76060"/>
<rect x="162" y="817" width="4" height="44" fill="#2f8f1f"/>
<rect x="163" y="818" width="2" height="43" fill="#6cc43c"/>
<rect x="167" y="824" width="3" height="37" fill="#cc2a2a"/>
<rect x="168" y="825" width="1" height="36" fill="#f76060"/>
<rect x="171" y="837" width="4" height="24" fill="#2f8f1f"/>
<rect x="172" y="838" width="2" height="23" fill="#6cc43c"/>
<rect x="176" y="831" width="3" height="30" fill="#2f8f1f"/>
<rect x="177" y="832" width="1" height="29" fill="#6cc43c"/>
<rect x="180" y="836" width="4" height="25" fill="#2f8f1f"/>
<rect x="181" y="837" width="2" height="24" fill="#6cc43c"/>
<rect x="185" y="836" width="3" height="25" fill="#cc2a2a"/>
<rect x="186" y="837" width="1" height="24" fill="#f76060"/>
<rect x="189" y="834" width="4" height="27" fill="#2f8f1f"/>
<rect x="190" y="835" width="2" height="26" fill="#6cc43c"/>
<rect x="194" y="821" width="3" height="40" fill="#2f8f1f"/>
<rect x="195" y="822" width="1" height="39" fill="#6cc43c"/>
<rect x="198" y="809" width="4" height="52" fill="#cc2a2a"/>
<rect x="199" y="810" width="2" height="51" fill="#f76060"/>
<rect x="203" y="816" width="3" height="45" fill="#cc2a2a"/>
<rect x="204" y="817" width="1" height="44" fill="#f76060"/>
<rect x="207" y="814" width="4" height="47" fill="#cc2a2a"/>
<rect x="208" y="815" width="2" height="46" fill="#f76060"/>
<rect x="212" y="801" width="3" height="60" fill="#cc2a2a"/>
<rect x="213" y="802" width="1" height="59" fill="#f76060"/>
<rect x="216" y="847" width="4" height="14" fill="#2f8f1f"/>
<rect x="217" y="848" width="2" height="13" fill="#6cc43c"/>
<rect x="221" y="837" width="3" height="24" fill="#2f8f1f"/>
<rect x="222" y="838" width="1" height="23" fill="#6cc43c"/>
<rect x="225" y="846" width="4" height="15" fill="#cc2a2a"/>
<rect x="226" y="847" width="2" height="14" fill="#f76060"/>
<rect x="230" y="846" width="3" height="15" fill="#cc2a2a"/>
<rect x="231" y="847" width="1" height="14" fill="#f76060"/>
<rect x="234" y="847" width="4" height="14" fill="#2f8f1f"/>
<rect x="235" y="848" width="2" height="13" fill="#6cc43c"/>
<rect x="239" y="849" width="3" height="12" fill="#2f8f1f"/>
<rect x="240" y="850" width="1" height="11" fill="#6cc43c"/>
<rect x="243" y="839" width="4" height="22" fill="#cc2a2a"/>
<rect x="244" y="840" width="2" height="21" fill="#f76060"/>
<rect x="248" y="836" width="3" height="25" fill="#2f8f1f"/>
<rect x="249" y="837" width="1" height="24" fill="#6cc43c"/>
<rect x="252" y="832" width="4" height="29" fill="#2f8f1f"/>
<rect x="253" y="833" width="2" height="28" fill="#6cc43c"/>
<rect x="257" y="843" width="3" height="18" fill="#cc2a2a"/>
<rect x="258" y="844" width="1" height="17" fill="#f76060"/>
<rect x="261" y="841" width="4" height="20" fill="#cc2a2a"/>
<rect x="262" y="842" width="2" height="19" fill="#f76060"/>
<rect x="266" y="837" width="3" height="24" fill="#2f8f1f"/>
<rect x="267" y="838" width="1" height="23" fill="#6cc43c"/>
<rect x="270" y="846" width="4" height="15" fill="#cc2a2a"/>
<rect x="271" y="847" width="2" height="14" fill="#f76060"/>
<rect x="275" y="839" width="3" height="22" fill="#2f8f1f"/>
<rect x="276" y="840" width="1" height="21" fill="#6cc43c"/>
<rect x="279" y="841" width="4" height="20" fill="#2f8f1f"/>
<rect x="280" y="842" width="2" height="19" fill="#6cc43c"/>
<rect x="284" y="819" width="3" height="42" fill="#2f8f1f"/>
<rect x="285" y="820" width="1" height="41" fill="#6cc43c"/>
<rect x="288" y="839" width="4" height="22" fill="#2f8f1f"/>
<rect x="289" y="840" width="2" height="21" fill="#6cc43c"/>
<rect x="293" y="837" width="3" height="24" fill="#2f8f1f"/>
<rect x="294" y="838" width="1" height="23" fill="#6cc43c"/>
<rect x="297" y="836" width="4" height="25" fill="#cc2a2a"/>
<rect x="298" y="837" width="2" height="24" fill="#f76060"/>
<rect x="302" y="826" width="3" height="35" fill="#cc2a2a"/>
<rect x="303" y="827" width="1" height="34" fill="#f76060"/>
<rect x="306" y="845" width="4" height="16" fill="#2f8f1f"/>
<rect x="307" y="846" width="2" height="15" fill="#6cc43c"/>
<rect x="311" y="832" width="3" height="29" fill="#2f8f1f"/>
<rect x="312" y="833" width="1" height="28" fill="#6cc43c"/>
<rect x="315" y="838" width="4" height="23" fill="#cc2a2a"/>
<rect x="316" y="839" width="2" height="22" fill="#f76060"/>
<rect x="320" y="842" width="3" height="19" fill="#cc2a2a"/>
<rect x="321" y="843" width="1" height="18" fill="#f76060"/>
<rect x="324" y="845" width="4" height="16" fill="#2f8f1f"/>
<rect x="325" y="846" width="2" height="15" fill="#6cc43c"/>
<rect x="329" y="843" width="3" height="18" fill="#2f8f1f"/>
<rect x="330" y="844" width="1" height="17" fill="#6cc43c"/>
<rect x="333" y="849" width="4" height="12" fill="#2f8f1f"/>
<rect x="334" y="850" width="2" height="11" fill="#6cc43c"/>
<rect x="338" y="850" width="3" height="11" fill="#2f8f1f"/>
<rect x="339" y="851" width="1" height="10" fill="#6cc43c"/>
<rect x="342" y="847" width="4" height="14" fill="#cc2a2a"/>
<rect x="343" y="848" width="2" height="13" fill="#f76060"/>
<rect x="347" y="847" width="3" height="14" fill="#2f8f1f"/>
<rect x="348" y="848" width="1" height="13" fill="#6cc43c"/>
<rect x="351" y="848" width="4" height="13" fill="#cc2a2a"/>
<rect x="352" y="849" width="2" height="12" fill="#f76060"/>
<rect x="356" y="846" width="3" height="15" fill="#cc2a2a"/>
<rect x="357" y="847" width="1" height="14" fill="#f76060"/>
<rect x="360" y="849" width="4" height="12" fill="#2f8f1f"/>
<rect x="361" y="850" width="2" height="11" fill="#6cc43c"/>
<rect x="365" y="848" width="3" height="13" fill="#2f8f1f"/>
<rect x="366" y="849" width="1" height="12" fill="#6cc43c"/>
<rect x="369" y="850" width="4" height="11" fill="#cc2a2a"/>
<rect x="370" y="851" width="2" height="10" fill="#f76060"/>
<rect x="374" y="845" width="3" height="16" fill="#cc2a2a"/>
<rect x="375" y="846" width="1" height="15" fill="#f76060"/>
<rect x="378" y="844" width="4" height="17" fill="#2f8f1f"/>
<rect x="379" y="845" width="2" height="16" fill="#6cc43c"/>
<rect x="383" y="848" width="3" height="13" fill="#cc2a2a"/>
<rect x="384" y="849" width="1" height="12" fill="#f76060"/>
<rect x="387" y="850" width="4" height="11" fill="#cc2a2a"/>
<rect x="388" y="851" width="2" height="10" fill="#f76060"/>
<rect x="392" y="845" width="3" height="16" fill="#cc2a2a"/>
<rect x="393" y="846" width="1" height="15" fill="#f76060"/>
<rect x="396" y="843" width="4" height="18" fill="#2f8f1f"/>
<rect x="397" y="844" width="2" height="17" fill="#6cc43c"/>
<rect x="401" y="802" width="3" height="59" fill="#2f8f1f"/>
<rect x="402" y="803" width="1" height="58" fill="#6cc43c"/>
<rect x="405" y="818" width="4" height="43" fill="#2f8f1f"/>
<rect x="406" y="819" width="2" height="42" fill="#6cc43c"/>
<rect x="410" y="839" width="3" height="22" fill="#2f8f1f"/>
<rect x="411" y="840" width="1" height="21" fill="#6cc43c"/>
<rect x="414" y="834" width="4" height="27" fill="#cc2a2a"/>
<rect x="415" y="835" width="2" height="26" fill="#f76060"/>
<rect x="419" y="836" width="3" height="25" fill="#cc2a2a"/>
<rect x="420" y="837" width="1" height="24" fill="#f76060"/>
<rect x="423" y="841" width="4" height="20" fill="#cc2a2a"/>
<rect x="424" y="842" width="2" height="19" fill="#f76060"/>
<rect x="428" y="842" width="3" height="19" fill="#2f8f1f"/>
<rect x="429" y="843" width="1" height="18" fill="#6cc43c"/>
<rect x="432" y="841" width="4" height="20" fill="#cc2a2a"/>
<rect x="433" y="842" width="2" height="19" fill="#f76060"/>
<rect x="437" y="843" width="3" height="18" fill="#cc2a2a"/>
<rect x="438" y="844" width="1" height="17" fill="#f76060"/>
<rect x="441" y="845" width="4" height="16" fill="#2f8f1f"/>
<rect x="442" y="846" width="2" height="15" fill="#6cc43c"/>
<rect x="446" y="837" width="3" height="24" fill="#2f8f1f"/>
<rect x="447" y="838" width="1" height="23" fill="#6cc43c"/>
<rect x="450" y="845" width="4" height="16" fill="#cc2a2a"/>
<rect x="451" y="846" width="2" height="15" fill="#f76060"/>
<rect x="455" y="837" width="3" height="24" fill="#2f8f1f"/>
<rect x="456" y="838" width="1" height="23" fill="#6cc43c"/>
<rect x="459" y="843" width="4" height="18" fill="#cc2a2a"/>
<rect x="460" y="844" width="2" height="17" fill="#f76060"/>
<rect x="464" y="839" width="3" height="22" fill="#2f8f1f"/>
<rect x="465" y="840" width="1" height="21" fill="#6cc43c"/>
<rect x="468" y="847" width="4" height="14" fill="#cc2a2a"/>
<rect x="469" y="848" width="2" height="13" fill="#f76060"/>
<rect x="473" y="849" width="3" height="12" fill="#cc2a2a"/>
<rect x="474" y="850" width="1" height="11" fill="#f76060"/>
<rect x="477" y="850" width="4" height="11" fill="#cc2a2a"/>
<rect x="478" y="851" width="2" height="10" fill="#f76060"/>
<rect x="482" y="847" width="3" height="14" fill="#2f8f1f"/>
<rect x="483" y="848" width="1" height="13" fill="#6cc43c"/>
<rect x="486" y="842" width="4" height="19" fill="#cc2a2a"/>
<rect x="487" y="843" width="2" height="18" fill="#f76060"/>
<rect x="491" y="843" width="3" height="18" fill="#cc2a2a"/>
<rect x="492" y="844" width="1" height="17" fill="#f76060"/>
<rect x="495" y="847" width="4" height="14" fill="#2f8f1f"/>
<rect x="496" y="848" width="2" height="13" fill="#6cc43c"/>
<rect x="500" y="847" width="3" height="14" fill="#cc2a2a"/>
<rect x="501" y="848" width="1" height="13" fill="#f76060"/>
<rect x="504" y="851" width="4" height="10" fill="#2f8f1f"/>
<rect x="505" y="852" width="2" height="9" fill="#6cc43c"/>
<rect x="509" y="846" width="3" height="15" fill="#2f8f1f"/>
<rect x="510" y="847" width="1" height="14" fill="#6cc43c"/>
<rect x="513" y="848" width="4" height="13" fill="#cc2a2a"/>
<rect x="514" y="849" width="2" height="12" fill="#f76060"/>
<rect x="518" y="848" width="4" height="13" fill="#2f8f1f"/>
<rect x="519" y="849" width="2" height="12" fill="#6cc43c"/>
<rect x="523" y="831" width="3" height="30" fill="#2f8f1f"/>
<rect x="524" y="832" width="1" height="29" fill="#6cc43c"/>
<rect x="527" y="844" width="4" height="17" fill="#cc2a2a"/>
<rect x="528" y="845" width="2" height="16" fill="#f76060"/>
<rect x="532" y="849" width="3" height="12" fill="#2f8f1f"/>
<rect x="533" y="850" width="1" height="11" fill="#6cc43c"/>
<rect x="536" y="847" width="4" height="14" fill="#cc2a2a"/>
<rect x="537" y="848" width="2" height="13" fill="#f76060"/>
<rect x="541" y="848" width="3" height="13" fill="#cc2a2a"/>
<rect x="542" y="849" width="1" height="12" fill="#f76060"/>
<rect x="545" y="850" width="4" height="11" fill="#2f8f1f"/>
<rect x="546" y="851" width="2" height="10" fill="#6cc43c"/>
<rect x="550" y="846" width="3" height="15" fill="#cc2a2a"/>
<rect x="551" y="847" width="1" height="14" fill="#f76060"/>
<rect x="554" y="847" width="4" height="14" fill="#cc2a2a"/>
<rect x="555" y="848" width="2" height="13" fill="#f76060"/>
<rect x="559" y="843" width="3" height="18" fill="#cc2a2a"/>
<rect x="560" y="844" width="1" height="17" fill="#f76060"/>
<rect x="563" y="848" width="4" height="13" fill="#cc2a2a"/>
<rect x="564" y="849" width="2" height="12" fill="#f76060"/>
<rect x="568" y="834" width="3" height="27" fill="#cc2a2a"/>
<rect x="569" y="835" width="1" height="26" fill="#f76060"/>
<rect x="572" y="832" width="4" height="29" fill="#cc2a2a"/>
<rect x="573" y="833" width="2" height="28" fill="#f76060"/>
<rect x="577" y="834" width="3" height="27" fill="#cc2a2a"/>
<rect x="578" y="835" width="1" height="26" fill="#f76060"/>
<rect x="581" y="839" width="4" height="22" fill="#2f8f1f"/>
<rect x="582" y="840" width="2" height="21" fill="#6cc43c"/>
<rect x="586" y="839" width="3" height="22" fill="#cc2a2a"/>
<rect x="587" y="840" width="1" height="21" fill="#f76060"/>
<rect x="590" y="847" width="4" height="14" fill="#2f8f1f"/>
<rect x="591" y="848" width="2" height="13" fill="#6cc43c"/>
<rect x="595" y="846" width="3" height="15" fill="#2f8f1f"/>
<rect x="596" y="847" width="1" height="14" fill="#6cc43c"/>
<rect x="599" y="840" width="4" height="21" fill="#cc2a2a"/>
<rect x="600" y="841" width="2" height="20" fill="#f76060"/>
<rect x="604" y="845" width="3" height="16" fill="#cc2a2a"/>
<rect x="605" y="846" width="1" height="15" fill="#f76060"/>
<rect x="608" y="846" width="4" height="15" fill="#cc2a2a"/>
<rect x="609" y="847" width="2" height="14" fill="#f76060"/>
<rect x="613" y="848" width="3" height="13" fill="#2f8f1f"/>
<rect x="614" y="849" width="1" height="12" fill="#6cc43c"/>
<rect x="617" y="838" width="4" height="23" fill="#2f8f1f"/>
<rect x="618" y="839" width="2" height="22" fill="#6cc43c"/>
<rect x="622" y="842" width="3" height="19" fill="#2f8f1f"/>
<rect x="623" y="843" width="1" height="18" fill="#6cc43c"/>
<rect x="626" y="842" width="4" height="19" fill="#cc2a2a"/>
<rect x="627" y="843" width="2" height="18" fill="#f76060"/>
<rect x="631" y="833" width="3" height="28" fill="#cc2a2a"/>
<rect x="632" y="834" width="1" height="27" fill="#f76060"/>
<rect x="635" y="843" width="4" height="18" fill="#2f8f1f"/>
<rect x="636" y="844" width="2" height="17" fill="#6cc43c"/>
<rect x="640" y="848" width="3" height="13" fill="#2f8f1f"/>
<rect x="641" y="849" width="1" height="12" fill="#6cc43c"/>
<rect x="644" y="840" width="4" height="21" fill="#cc2a2a"/>
<rect x="645" y="841" width="2" height="20" fill="#f76060"/>
<rect x="649" y="833" width="3" height="28" fill="#2f8f1f"/>
<rect x="650" y="834" width="1" height="27" fill="#6cc43c"/>
<rect x="653" y="843" width="4" height="18" fill="#2f8f1f"/>
<rect x="654" y="844" width="2" height="17" fill="#6cc43c"/>
<rect x="658" y="846" width="3" height="15" fill="#2f8f1f"/>
<rect x="659" y="847" width="1" height="14" fill="#6cc43c"/>
<rect x="662" y="849" width="4" height="12" fill="#2f8f1f"/>
<rect x="663" y="850" width="2" height="11" fill="#6cc43c"/>
<rect x="667" y="844" width="3" height="17" fill="#cc2a2a"/>
<rect x="668" y="845" width="1" height="16" fill="#f76060"/>
<rect x="671" y="844" width="4" height="17" fill="#2f8f1f"/>
<rect x="672" y="845" width="2" height="16" fill="#6cc43c"/>
<rect x="676" y="851" width="3" height="10" fill="#2f8f1f"/>
<rect x="677" y="852" width="1" height="9" fill="#6cc43c"/>
<rect x="680" y="851" width="4" height="10" fill="#cc2a2a"/>
<rect x="681" y="852" width="2" height="9" fill="#f76060"/>
<rect x="685" y="850" width="3" height="11" fill="#2f8f1f"/>
<rect x="686" y="851" width="1" height="10" fill="#6cc43c"/>
<rect x="689" y="841" width="4" height="20" fill="#2f8f1f"/>
<rect x="690" y="842" width="2" height="19" fill="#6cc43c"/>
<rect x="694" y="850" width="3" height="11" fill="#cc2a2a"/>
<rect x="695" y="851" width="1" height="10" fill="#f76060"/>
<rect x="698" y="853" width="4" height="8" fill="#cc2a2a"/>
<rect x="699" y="854" width="2" height="7" fill="#f76060"/>
<rect x="703" y="845" width="3" height="16" fill="#2f8f1f"/>
<rect x="704" y="846" width="1" height="15" fill="#6cc43c"/>
<rect x="707" y="845" width="4" height="16" fill="#2f8f1f"/>
<rect x="708" y="846" width="2" height="15" fill="#6cc43c"/>
<rect x="712" y="845" width="3" height="16" fill="#2f8f1f"/>
<rect x="713" y="846" width="1" height="15" fill="#6cc43c"/>
<rect x="716" y="850" width="4" height="11" fill="#cc2a2a"/>
<rect x="717" y="851" width="2" height="10" fill="#f76060"/>
<rect x="721" y="849" width="3" height="12" fill="#cc2a2a"/>
<rect x="722" y="850" width="1" height="11" fill="#f76060"/>
<rect x="725" y="848" width="4" height="13" fill="#2f8f1f"/>
<rect x="726" y="849" width="2" height="12" fill="#6cc43c"/>
<rect x="730" y="837" width="3" height="24" fill="#cc2a2a"/>
<rect x="731" y="838" width="1" height="23" fill="#f76060"/>
<rect x="734" y="845" width="4" height="16" fill="#cc2a2a"/>
<rect x="735" y="846" width="2" height="15" fill="#f76060"/>
<rect x="739" y="839" width="3" height="22" fill="#cc2a2a"/>
<rect x="740" y="840" width="1" height="21" fill="#f76060"/>
<rect x="743" y="840" width="4" height="21" fill="#2f8f1f"/>
<rect x="744" y="841" width="2" height="20" fill="#6cc43c"/>
<rect x="748" y="832" width="3" height="29" fill="#cc2a2a"/>
<rect x="749" y="833" width="1" height="28" fill="#f76060"/>
<rect x="752" y="837" width="4" height="24" fill="#2f8f1f"/>
<rect x="753" y="838" width="2" height="23" fill="#6cc43c"/>
<rect x="757" y="827" width="3" height="34" fill="#cc2a2a"/>
<rect x="758" y="828" width="1" height="33" fill="#f76060"/>
<rect x="761" y="836" width="4" height="25" fill="#2f8f1f"/>
<rect x="762" y="837" width="2" height="24" fill="#6cc43c"/>
<rect x="766" y="833" width="3" height="28" fill="#cc2a2a"/>
<rect x="767" y="834" width="1" height="27" fill="#f76060"/>
<rect x="770" y="818" width="4" height="43" fill="#2f8f1f"/>
<rect x="771" y="819" width="2" height="42" fill="#6cc43c"/>
<rect x="775" y="823" width="3" height="38" fill="#cc2a2a"/>
<rect x="776" y="824" width="1" height="37" fill="#f76060"/>
<rect x="779" y="831" width="4" height="30" fill="#2f8f1f"/>
<rect x="780" y="832" width="2" height="29" fill="#6cc43c"/>
<rect x="784" y="844" width="3" height="17" fill="#cc2a2a"/>
<rect x="785" y="845" width="1" height="16" fill="#f76060"/>
<rect x="788" y="837" width="4" height="24" fill="#2f8f1f"/>
<rect x="789" y="838" width="2" height="23" fill="#6cc43c"/>
<rect x="793" y="814" width="3" height="47" fill="#2f8f1f"/>
<rect x="794" y="815" width="1" height="46" fill="#6cc43c"/>
<rect x="797" y="835" width="4" height="26" fill="#cc2a2a"/>
<rect x="798" y="836" width="2" height="25" fill="#f76060"/>
<rect x="802" y="835" width="3" height="26" fill="#cc2a2a"/>
<rect x="803" y="836" width="1" height="25" fill="#f76060"/>
<rect x="806" y="842" width="4" height="19" fill="#2f8f1f"/>
<rect x="807" y="843" width="2" height="18" fill="#6cc43c"/>
<rect x="811" y="841" width="3" height="20" fill="#cc2a2a"/>
<rect x="812" y="842" width="1" height="19" fill="#f76060"/>
<rect x="815" y="843" width="4" height="18" fill="#2f8f1f"/>
<rect x="816" y="844" width="2" height="17" fill="#6cc43c"/>
<rect x="820" y="847" width="3" height="14" fill="#2f8f1f"/>
<rect x="821" y="848" width="1" height="13" fill="#6cc43c"/>
<rect x="824" y="843" width="4" height="18" fill="#2f8f1f"/>
<rect x="825" y="844" width="2" height="17" fill="#6cc43c"/>
<rect x="829" y="845" width="3" height="16" fill="#2f8f1f"/>
<rect x="830" y="846" width="1" height="15" fill="#6cc43c"/>
<rect x="833" y="845" width="4" height="16" fill="#cc2a2a"/>
<rect x="834" y="846" width="2" height="15" fill="#f76060"/>
<rect x="838" y="841" width="3" height="20" fill="#2f8f1f"/>
<rect x="839" y="842" width="1" height="19" fill="#6cc43c"/>
<rect x="842" y="847" width="4" height="14" fill="#cc2a2a"/>
<rect x="843" y="848" width="2" height="13" fill="#f76060"/>
<rect x="847" y="838" width="3" height="23" fill="#2f8f1f"/>
<rect x="848" y="839" width="1" height="22" fill="#6cc43c"/>
<rect x="851" y="844" width="4" height="17" fill="#2f8f1f"/>
<rect x="852" y="845" width="2" height="16" fill="#6cc43c"/>
<rect x="856" y="844" width="3" height="17" fill="#cc2a2a"/>
<rect x="857" y="845" width="1" height="16" fill="#f76060"/>
<rect x="860" y="842" width="4" height="19" fill="#2f8f1f"/>
<rect x="861" y="843" width="2" height="18" fill="#6cc43c"/>
<rect x="865" y="834" width="3" height="27" fill="#cc2a2a"/>
<rect x="866" y="835" width="1" height="26" fill="#f76060"/>
<rect x="869" y="843" width="4" height="18" fill="#2f8f1f"/>
<rect x="870" y="844" width="2" height="17" fill="#6cc43c"/>
<rect x="874" y="838" width="3" height="23" fill="#cc2a2a"/>
<rect x="875" y="839" width="1" height="22" fill="#f76060"/>
<rect x="878" y="849" width="4" height="12" fill="#cc2a2a"/>
<rect x="879" y="850" width="2" height="11" fill="#f76060"/>
<rect x="883" y="846" width="3" height="15" fill="#cc2a2a"/>
<rect x="884" y="847" width="1" height="14" fill="#f76060"/>
<rect x="887" y="839" width="4" height="22" fill="#cc2a2a"/>
<rect x="888" y="840" width="2" height="21" fill="#f76060"/>
<rect x="892" y="844" width="3" height="17" fill="#cc2a2a"/>
<rect x="893" y="845" width="1" height="16" fill="#f76060"/>
<rect x="896" y="839" width="4" height="22" fill="#cc2a2a"/>
<rect x="897" y="840" width="2" height="21" fill="#f76060"/>
<rect x="901" y="821" width="3" height="40" fill="#cc2a2a"/>
<rect x="902" y="822" width="1" height="39" fill="#f76060"/>
<rect x="905" y="831" width="4" height="30" fill="#cc2a2a"/>
<rect x="906" y="832" width="2" height="29" fill="#f76060"/>
<rect x="910" y="840" width="3" height="21" fill="#2f8f1f"/>
<rect x="911" y="841" width="1" height="20" fill="#6cc43c"/>
<rect x="914" y="846" width="4" height="15" fill="#2f8f1f"/>
<rect x="915" y="847" width="2" height="14" fill="#6cc43c"/>
<rect x="919" y="846" width="3" height="15" fill="#2f8f1f"/>
<rect x="920" y="847" width="1" height="14" fill="#6cc43c"/>
<rect x="923" y="844" width="4" height="17" fill="#2f8f1f"/>
<rect x="924" y="845" width="2" height="16" fill="#6cc43c"/>
<rect x="928" y="829" width="3" height="32" fill="#cc2a2a"/>
<rect x="929" y="830" width="1" height="31" fill="#f76060"/>
<rect x="932" y="842" width="4" height="19" fill="#2f8f1f"/>
<rect x="933" y="843" width="2" height="18" fill="#6cc43c"/>
<rect x="937" y="845" width="3" height="16" fill="#cc2a2a"/>
<rect x="938" y="846" width="1" height="15" fill="#f76060"/>
<rect x="941" y="846" width="4" height="15" fill="#2f8f1f"/>
<rect x="942" y="847" width="2" height="14" fill="#6cc43c"/>
<rect x="946" y="850" width="3" height="11" fill="#2f8f1f"/>
<rect x="947" y="851" width="1" height="10" fill="#6cc43c"/>
<rect x="950" y="852" width="4" height="9" fill="#2f8f1f"/>
<rect x="951" y="853" width="2" height="8" fill="#6cc43c"/>
<rect x="955" y="853" width="3" height="8" fill="#cc2a2a"/>
<rect x="956" y="854" width="1" height="7" fill="#f76060"/>
<rect x="959" y="843" width="4" height="18" fill="#cc2a2a"/>
<rect x="960" y="844" width="2" height="17" fill="#f76060"/>
<rect x="964" y="819" width="3" height="42" fill="#cc2a2a"/>
<rect x="965" y="820" width="1" height="41" fill="#f76060"/>
<rect x="968" y="824" width="4" height="37" fill="#cc2a2a"/>
<rect x="969" y="825" width="2" height="36" fill="#f76060"/>
<rect x="973" y="845" width="3" height="16" fill="#cc2a2a"/>
<rect x="974" y="846" width="1" height="15" fill="#f76060"/>
<rect x="977" y="829" width="4" height="32" fill="#cc2a2a"/>
<rect x="978" y="830" width="2" height="31" fill="#f76060"/>
<rect x="982" y="844" width="3" height="17" fill="#2f8f1f"/>
<rect x="983" y="845" width="1" height="16" fill="#6cc43c"/>
<rect x="986" y="841" width="4" height="20" fill="#2f8f1f"/>
<rect x="987" y="842" width="2" height="19" fill="#6cc43c"/>
<rect x="991" y="847" width="3" height="14" fill="#cc2a2a"/>
<rect x="992" y="848" width="1" height="13" fill="#f76060"/>
<rect x="995" y="843" width="4" height="18" fill="#cc2a2a"/>
<rect x="996" y="844" width="2" height="17" fill="#f76060"/>
<rect x="1000" y="842" width="3" height="19" fill="#cc2a2a"/>
<rect x="1001" y="843" width="1" height="18" fill="#f76060"/>
<rect x="1004" y="839" width="4" height="22" fill="#2f8f1f"/>
<rect x="1005" y="840" width="2" height="21" fill="#6cc43c"/>
<rect x="1009" y="838" width="3" height="23" fill="#cc2a2a"/>
<rect x="1010" y="839" width="1" height="22" fill="#f76060"/>
<rect x="1013" y="847" width="4" height="14" fill="#2f8f1f"/>
<rect x="1014" y="848" width="2" height="13" fill="#6cc43c"/>
<rect x="1018" y="840" width="3" height="21" fill="#2f8f1f"/>
<rect x="1019" y="841" width="1" height="20" fill="#6cc43c"/>
<rect x="1022" y="840" width="4" height="21" fill="#cc2a2a"/>
<rect x="1023" y="841" width="2" height="20" fill="#f76060"/>
<rect x="1027" y="836" width="3" height="25" fill="#2f8f1f"/>
<rect x="1028" y="837" width="1" height="24" fill="#6cc43c"/>
<rect x="1031" y="831" width="4" height="30" fill="#2f8f1f"/>
<rect x="1032" y="832" width="2" height="29" fill="#6cc43c"/>
<rect x="1036" y="848" width="3" height="13" fill="#2f8f1f"/>
<rect x="1037" y="849" width="1" height="12" fill="#6cc43c"/>
<rect x="1040" y="848" width="4" height="13" fill="#cc2a2a"/>
<rect x="1041" y="849" width="2" height="12" fill="#f76060"/>
<rect x="1045" y="841" width="3" height="20" fill="#2f8f1f"/>
<rect x="1046" y="842" width="1" height="19" fill="#6cc43c"/>
<rect x="1049" y="847" width="4" height="14" fill="#cc2a2a"/>
<rect x="1050" y="848" width="2" height="13" fill="#f76060"/>
<rect x="1054" y="821" width="3" height="40" fill="#cc2a2a"/>
<rect x="1055" y="822" width="1" height="39" fill="#f76060"/>
<rect x="1058" y="841" width="4" height="20" fill="#2f8f1f"/>
<rect x="1059" y="842" width="2" height="19" fill="#6cc43c"/>
<rect x="1063" y="834" width="3" height="27" fill="#cc2a2a"/>
<rect x="1064" y="835" width="1" height="26" fill="#f76060"/>
<rect x="1067" y="823" width="4" height="38" fill="#cc2a2a"/>
<rect x="1068" y="824" width="2" height="37" fill="#f76060"/>
<rect x="1072" y="832" width="3" height="29" fill="#cc2a2a"/>
<rect x="1073" y="833" width="1" height="28" fill="#f76060"/>
<rect x="1076" y="809" width="4" height="52" fill="#cc2a2a"/>
<rect x="1077" y="810" width="2" height="51" fill="#f76060"/>
<rect x="1081" y="837" width="3" height="24" fill="#cc2a2a"/>
<rect x="1082" y="838" width="1" height="23" fill="#f76060"/>
<rect x="1085" y="831" width="4" height="30" fill="#cc2a2a"/>
<rect x="1086" y="832" width="2" height="29" fill="#f76060"/>
<rect x="1090" y="829" width="3" height="32" fill="#2f8f1f"/>
<rect x="1091" y="830" width="1" height="31" fill="#6cc43c"/>
<rect x="1094" y="821" width="4" height="40" fill="#cc2a2a"/>
<rect x="1095" y="822" width="2" height="39" fill="#f76060"/>
<rect x="1099" y="819" width="3" height="42" fill="#2f8f1f"/>
<rect x="1100" y="820" width="1" height="41" fill="#6cc43c"/>
<rect x="1103" y="789" width="4" height="72" fill="#2f8f1f"/>
<rect x="1104" y="790" width="2" height="71" fill="#6cc43c"/>
<rect x="1108" y="842" width="3" height="19" fill="#2f8f1f"/>
<rect x="1109" y="843" width="1" height="18" fill="#6cc43c"/>
<rect x="1112" y="826" width="4" height="35" fill="#2f8f1f"/>
<rect x="1113" y="827" width="2" height="34" fill="#6cc43c"/>
<rect x="1117" y="845" width="3" height="16" fill="#cc2a2a"/>
<rect x="1118" y="846" width="1" height="15" fill="#f76060"/>
<rect x="1121" y="843" width="4" height="18" fill="#cc2a2a"/>
<rect x="1122" y="844" width="2" height="17" fill="#f76060"/>
<rect x="1126" y="845" width="3" height="16" fill="#2f8f1f"/>
<rect x="1127" y="846" width="1" height="15" fill="#6cc43c"/>
<rect x="1130" y="839" width="4" height="22" fill="#2f8f1f"/>
<rect x="1131" y="840" width="2" height="21" fill="#6cc43c"/>
<rect x="1135" y="839" width="3" height="22" fill="#2f8f1f"/>
<rect x="1136" y="840" width="1" height="21" fill="#6cc43c"/>
<rect x="1139" y="847" width="4" height="14" fill="#cc2a2a"/>
<rect x="1140" y="848" width="2" height="13" fill="#f76060"/>
<rect x="1144" y="829" width="3" height="32" fill="#cc2a2a"/>
<rect x="1145" y="830" width="1" height="31" fill="#f76060"/>
<rect x="1148" y="845" width="4" height="16" fill="#2f8f1f"/>
<rect x="1149" y="846" width="2" height="15" fill="#6cc43c"/>
<rect x="1153" y="837" width="3" height="24" fill="#cc2a2a"/>
<rect x="1154" y="838" width="1" height="23" fill="#f76060"/>
<rect x="1157" y="831" width="4" height="30" fill="#cc2a2a"/>
<rect x="1158" y="832" width="2" height="29" fill="#f76060"/>
<rect x="1162" y="821" width="3" height="40" fill="#cc2a2a"/>
<rect x="1163" y="822" width="1" height="39" fill="#f76060"/>
<rect x="1166" y="828" width="4" height="33" fill="#2f8f1f"/>
<rect x="1167" y="829" width="2" height="32" fill="#6cc43c"/>
<rect x="1171" y="842" width="3" height="19" fill="#2f8f1f"/>
<rect x="1172" y="843" width="1" height="18" fill="#6cc43c"/>
<rect x="1175" y="841" width="4" height="20" fill="#cc2a2a"/>
<rect x="1176" y="842" width="2" height="19" fill="#f76060"/>
<rect x="1180" y="846" width="3" height="15" fill="#cc2a2a"/>
<rect x="1181" y="847" width="1" height="14" fill="#f76060"/>
<rect x="1184" y="842" width="4" height="19" fill="#cc2a2a"/>
<rect x="1185" y="843" width="2" height="18" fill="#f76060"/>
<rect x="1189" y="812" width="3" height="49" fill="#2f8f1f"/>
<rect x="1190" y="813" width="1" height="48" fill="#6cc43c"/>
<rect x="1193" y="821" width="4" height="40" fill="#cc2a2a"/>
<rect x="1194" y="822" width="2" height="39" fill="#f76060"/>
<rect x="1198" y="831" width="3" height="30" fill="#cc2a2a"/>
<rect x="1199" y="832" width="1" height="29" fill="#f76060"/>
<rect x="1202" y="829" width="4" height="32" fill="#cc2a2a"/>
<rect x="1203" y="830" width="2" height="31" fill="#f76060"/>
<rect x="1207" y="827" width="3" height="34" fill="#cc2a2a"/>
<rect x="1208" y="828" width="1" height="33" fill="#f76060"/>
<rect x="1211" y="799" width="4" height="62" fill="#2f8f1f"/>
<rect x="1212" y="800" width="2" height="61" fill="#6cc43c"/>
<rect x="1216" y="804" width="3" height="57" fill="#cc2a2a"/>
<rect x="1217" y="805" width="1" height="56" fill="#f76060"/>
<rect x="1220" y="809" width="4" height="52" fill="#2f8f1f"/>
<rect x="1221" y="810" width="2" height="51" fill="#6cc43c"/>
<rect x="1225" y="834" width="4" height="27" fill="#2f8f1f"/>
<rect x="1226" y="835" width="2" height="26" fill="#6cc43c"/>
<rect x="1230" y="838" width="3" height="23" fill="#cc2a2a"/>
<rect x="1231" y="839" width="1" height="22" fill="#f76060"/>
<rect x="1234" y="784" width="4" height="77" fill="#2f8f1f"/>
<rect x="1235" y="785" width="2" height="76" fill="#6cc43c"/>
<rect x="1239" y="818" width="3" height="43" fill="#cc2a2a"/>
<rect x="1240" y="819" width="1" height="42" fill="#f76060"/>
<rect x="1243" y="798" width="4" height="63" fill="#2f8f1f"/>
<rect x="1244" y="799" width="2" height="62" fill="#6cc43c"/>
<rect x="1248" y="794" width="3" height="67" fill="#2f8f1f"/>
<rect x="1249" y="795" width="1" height="66" fill="#6cc43c"/>
<rect x="1252" y="807" width="4" height="54" fill="#cc2a2a"/>
<rect x="1253" y="808" width="2" height="53" fill="#f76060"/>
<rect x="1257" y="779" width="3" height="82" fill="#cc2a2a"/>
<rect x="1258" y="780" width="1" height="81" fill="#f76060"/>
<rect x="1261" y="821" width="4" height="40" fill="#2f8f1f"/>
<rect x="1262" y="822" width="2" height="39" fill="#6cc43c"/>
<rect x="1266" y="813" width="3" height="48" fill="#cc2a2a"/>
<rect x="1267" y="814" width="1" height="47" fill="#f76060"/>
<rect x="1270" y="809" width="4" height="52" fill="#2f8f1f"/>
<rect x="1271" y="810" width="2" height="51" fill="#6cc43c"/>
<rect x="1275" y="828" width="3" height="33" fill="#cc2a2a"/>
<rect x="1276" y="829" width="1" height="32" fill="#f76060"/>
<rect x="1279" y="813" width="4" height="48" fill="#cc2a2a"/>
<rect x="1280" y="814" width="2" height="47" fill="#f76060"/>
<rect x="1284" y="809" width="3" height="52" fill="#2f8f1f"/>
<rect x="1285" y="810" width="1" height="51" fill="#6cc43c"/>
<rect x="1288" y="807" width="4" height="54" fill="#cc2a2a"/>
<rect x="1289" y="808" width="2" height="53" fill="#f76060"/>
<rect x="1293" y="829" width="3" height="32" fill="#2f8f1f"/>
<rect x="1294" y="830" width="1" height="31" fill="#6cc43c"/>
<rect x="1297" y="824" width="4" height="37" fill="#cc2a2a"/>
<rect x="1298" y="825" width="2" height="36" fill="#f76060"/>
<rect x="1302" y="726" width="3" height="135" fill="#cc2a2a"/>
<rect x="1303" y="727" width="1" height="134" fill="#f76060"/>
<rect x="1306" y="770" width="4" height="91" fill="#2f8f1f"/>
<rect x="1307" y="771" width="2" height="90" fill="#6cc43c"/>
<rect x="1311" y="742" width="3" height="119" fill="#2f8f1f"/>
<rect x="1312" y="743" width="1" height="118" fill="#6cc43c"/>
<rect x="1315" y="794" width="4" height="67" fill="#cc2a2a"/>
<rect x="1316" y="795" width="2" height="66" fill="#f76060"/>
<rect x="1320" y="777" width="3" height="84" fill="#2f8f1f"/>
<rect x="1321" y="778" width="1" height="83" fill="#6cc43c"/>
<rect x="1324" y="796" width="4" height="65" fill="#2f8f1f"/>
<rect x="1325" y="797" width="2" height="64" fill="#6cc43c"/>
<rect x="1329" y="795" width="3" height="66" fill="#2f8f1f"/>
<rect x="1330" y="796" width="1" height="65" fill="#6cc43c"/>
</g>
<polyline fill="none" stroke="#2a9fd0" stroke-width="2" stroke-linejoin="round" points="0.0,835.2 11.6,833.8 18.3,836.8 33.2,834.3 48.2,831.8 61.5,829.7 74.8,828.0 83.1,829.4 88.1,828.0 99.7,829.0 116.3,831.8 133.0,833.2 149.6,833.2 157.9,832.3 174.5,832.7 182.8,832.3 191.1,834.3 199.4,833.0 207.7,831.8 214.4,829.0 232.7,829.7 241.0,831.3 249.3,830.7 265.9,830.2 274.2,831.0 282.5,833.2 298.0,833.8 299.2,833.8 317.9,833.8 339.5,840.5 354.5,840.5 359.5,841.5 376.1,841.5 394.4,843.0 404.4,841.0 421.0,841.5 431.0,842.3 435.9,841.5 440.9,842.3 457.5,842.3 464.2,841.0 525.7,841.0 534.0,843.0 552.3,845.5 567.2,845.5 573.9,844.3 596.0,845.1 597.2,844.3 629.2,843.5 645.9,842.6 655.8,841.5 682.4,841.8 689.1,843.0 695.7,842.3 702.4,844.3 715.7,844.3 719.0,845.5 729.0,845.5 742.3,844.3 762.2,843.8 775.5,841.8 792.1,841.0 802.1,839.3 812.1,838.0 845.3,838.0 850.3,836.8 875.2,836.8 881.9,838.0 894.0,839.3 895.2,839.3 904.0,840.5 912.3,839.3 920.6,841.3 948.8,841.3 955.5,842.3 960.5,842.3 968.8,840.5 973.8,841.3 980.4,840.5 998.7,840.5 1002.0,841.3 1007.0,840.5 1027.0,840.5 1031.9,841.3 1060.2,841.3 1068.5,840.2 1075.2,839.3 1081.8,836.8 1093.4,836.8 1105.1,834.3 1115.0,833.2 1133.3,832.7 1138.3,834.3 1143.3,834.3 1146.6,833.2 1159.9,833.2 1166.6,832.3 1173.2,832.3 1178.2,831.3 1183.2,832.3 1190.0,832.7 1194.0,831.8 1198.3,831.3 1206.6,832.7 1223.2,829.4 1232.4,832.3 1239.9,829.4 1253.2,826.0 1261.5,822.4 1268.1,821.4 1281.4,818.5 1289.7,817.4 1298.9,817.4 1304.7,812.7 1313.8,806.9 1318.0,806.1 1323.0,804.4 1331.3,802.8"/>
<rect x="2" y="724" width="153" height="16" fill="#ffffff" fill-opacity="0.85"/>
<g fill="#2e8b2e"><rect x="4" y="730" width="2.4" height="6"/><rect x="8" y="727" width="2.4" height="9"/><rect x="12" y="732" width="2.4" height="4"/></g>
<g font-size="11"><text x="20.3" y="734.8" fill="#2e8b2e">Volume(28)</text><text x="82.6" y="734.8" fill="#2e8b2e">1,82M</text><text x="118.9" y="734.8" fill="#2299cc">1,65M</text></g>
<line x1="1750.5" y1="0" x2="1750.5" y2="861" stroke="#dcdcdc" stroke-width="1" shape-rendering="crispEdges"/>
<g font-size="12" fill="#555">
<text x="1760.7" y="23.7">200,000</text>
<text x="1760.7" y="49.7">190,000</text>
<text x="1760.7" y="77.7">180,000</text>
<text x="1760.7" y="107.7">170,000</text>
<text x="1760.7" y="138.7">160,000</text>
<text x="1760.7" y="171.7">150,000</text>
<text x="1760.7" y="207.7">140,000</text>
<text x="1760.7" y="245.7">130,000</text>
<text x="1760.7" y="287.7">120,000</text>
<text x="1760.7" y="331.7">110,000</text>
<text x="1760.7" y="381.7">100,000</text>
<text x="1760.7" y="435.7">90,000</text>
<text x="1760.7" y="496.7">80,000</text>
<text x="1760.7" y="565.7">70,000</text>
<text x="1760.7" y="644.7">60,000</text>
<text x="1761" y="755.5">3,00M</text>
<text x="1761" y="791.5">2,00M</text>
<text x="1761" y="827.5">1,00M</text>
</g>
<g shape-rendering="crispEdges" stroke="#555" stroke-width="1">
<line x1="1751" y1="21.5" x2="1755" y2="21.5"/>
<line x1="1751" y1="47.5" x2="1755" y2="47.5"/>
<line x1="1751" y1="75.5" x2="1755" y2="75.5"/>
<line x1="1751" y1="105.5" x2="1755" y2="105.5"/>
<line x1="1751" y1="136.5" x2="1755" y2="136.5"/>
<line x1="1751" y1="169.5" x2="1755" y2="169.5"/>
<line x1="1751" y1="205.5" x2="1755" y2="205.5"/>
<line x1="1751" y1="243.5" x2="1755" y2="243.5"/>
<line x1="1751" y1="285.5" x2="1755" y2="285.5"/>
<line x1="1751" y1="329.5" x2="1755" y2="329.5"/>
<line x1="1751" y1="379.5" x2="1755" y2="379.5"/>
<line x1="1751" y1="433.5" x2="1755" y2="433.5"/>
<line x1="1751" y1="494.5" x2="1755" y2="494.5"/>
<line x1="1751" y1="563.5" x2="1755" y2="563.5"/>
<line x1="1751" y1="642.5" x2="1755" y2="642.5"/>
<line x1="1751" y1="753.5" x2="1755" y2="753.5"/>
<line x1="1751" y1="789.5" x2="1755" y2="789.5"/>
<line x1="1751" y1="825.5" x2="1755" y2="825.5"/>
</g>
<polygon points="1750,405.5 1758,396 1805,396 1805,415 1758,415" fill="#6cc23a"/>
<text x="1760.8" y="408.8" font-size="12" fill="#143008">95,160</text>
<rect x="0" y="2" width="400" height="15" fill="#fff" fill-opacity="0.6"/>
<rect x="2" y="18" width="250" height="15" fill="#fff" fill-opacity="0.72"/>
<g stroke="#6abf40" stroke-width="1.1" fill="none"><line x1="4.5" y1="7" x2="4.5" y2="15.5"/><rect x="3.3" y="8.5" width="2.4" height="3.5" fill="#fff"/><line x1="8.5" y1="5.5" x2="8.5" y2="15"/><rect x="7.3" y="9.5" width="2.4" height="4" fill="#fff"/><line x1="12.8" y1="7" x2="12.8" y2="15.5"/><rect x="11.6" y="11" width="2.4" height="3.5" fill="#fff"/></g>
<g font-size="11" fill="#6abf40" stroke="#6abf40" stroke-width="0.35"><text x="20.4" y="13.7">Bluebird Bio Inc. (NASDAQ, Last)</text><text x="189.5" y="13.7">O: 91,760</text><text x="244.3" y="13.7">H: 95,790</text><text x="297.4" y="13.7">L: 91,760</text><text x="349" y="13.7">C: 95,160</text></g>
<g stroke="#444" stroke-width="1.2" fill="none"><circle cx="9.4" cy="26.3" r="4.9" fill="#fff" fill-opacity="0.7"/><polyline points="9.4,23.3 9.4,26.5 11.4,28.3"/></g>
<g font-size="11" fill="#444"><text x="20.6" y="29.9">12.10.2018 - 17.12.2019</text><text x="148" y="29.9">(EST, 1 Jahr, 1 Tag)</text></g>
</svg>
</body></html>
